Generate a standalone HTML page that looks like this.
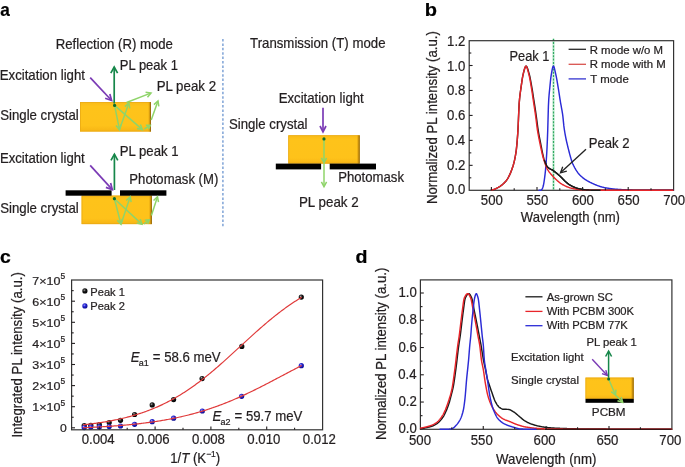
<!DOCTYPE html>
<html><head><meta charset="utf-8"><style>
html,body{margin:0;padding:0;background:#fff;}
svg{display:block;font-family:"Liberation Sans", sans-serif;will-change:transform;}
</style></head><body>
<svg width="685" height="467" viewBox="0 0 685 467">
<defs>
<linearGradient id="cg" x1="0" y1="0" x2="0" y2="1">
<stop offset="0" stop-color="#f9bb18"/><stop offset="0.15" stop-color="#fec31a"/><stop offset="0.8" stop-color="#fec21a"/><stop offset="1" stop-color="#f6b414"/>
</linearGradient>
<linearGradient id="ce" x1="0" y1="0" x2="1" y2="0">
<stop offset="0" stop-color="#e7a10f" stop-opacity="0"/><stop offset="0.5" stop-color="#c98e0c" stop-opacity="0.7"/><stop offset="1" stop-color="#7d560a"/>
</linearGradient>
<radialGradient id="gk" cx="0.4" cy="0.38" r="0.62" fx="0.38" fy="0.34"><stop offset="0" stop-color="#e0e0e0"/><stop offset="0.2" stop-color="#555"/><stop offset="0.5" stop-color="#151515"/><stop offset="1" stop-color="#000"/></radialGradient>
<radialGradient id="gb" cx="0.4" cy="0.38" r="0.62" fx="0.38" fy="0.34"><stop offset="0" stop-color="#d8d8ff"/><stop offset="0.2" stop-color="#5a5aee"/><stop offset="0.5" stop-color="#2020cc"/><stop offset="1" stop-color="#0c0c90"/></radialGradient>
</defs>
<rect width="685" height="467" fill="#fff"/>
<text transform="translate(0.28,15.90) scale(0.9413,1)" font-size="18.24" font-weight="bold" stroke="#000" stroke-width="0.22" fill="#000">a</text>
<text transform="translate(55.74,48.50) scale(0.9607,1)" font-size="13.73" stroke="#231f20" stroke-width="0.22" fill="#231f20">Reflection (R) mode</text>
<text transform="translate(250.07,48.00) scale(0.9641,1)" font-size="13.73" stroke="#231f20" stroke-width="0.22" fill="#231f20">Transmission (T) mode</text>
<line x1="222.90" y1="39.00" x2="222.90" y2="228.00" stroke="#7fa3d6" stroke-width="1.5" stroke-dasharray="2.5,1.9"/>
<rect x="80" y="102.1" width="71" height="29.4" fill="url(#cg)"/>
<rect x="80.40" y="102.50" width="70.20" height="28.60" fill="none" stroke="#eaaa14" stroke-width="0.8"/>
<rect x="148.00" y="102.1" width="3.0" height="29.4" fill="url(#ce)"/>
<text transform="translate(-0.26,80.40) scale(0.9632,1)" font-size="13.73" stroke="#231f20" stroke-width="0.22" fill="#231f20">Excitation light</text>
<text transform="translate(0.20,119.50) scale(0.9638,1)" font-size="13.73" stroke="#231f20" stroke-width="0.22" fill="#231f20">Single crystal</text>
<text transform="translate(119.86,70.30) scale(0.9477,1)" font-size="13.73" stroke="#231f20" stroke-width="0.22" fill="#231f20">PL peak 1</text>
<text transform="translate(156.64,90.90) scale(0.9696,1)" font-size="13.73" stroke="#231f20" stroke-width="0.22" fill="#231f20">PL peak 2</text>
<line x1="90.20" y1="77.60" x2="111.40" y2="100.28" stroke="#7b3bb5" stroke-width="1.7" stroke-linecap="butt"/>
<polyline points="105.17,98.30 111.60,100.50 109.84,93.93" fill="none" stroke="#7b3bb5" stroke-width="1.7" stroke-linejoin="miter" stroke-linecap="butt"/>
<line x1="114.20" y1="103.50" x2="114.20" y2="67.30" stroke="#16874a" stroke-width="1.7" stroke-linecap="butt"/>
<polyline points="117.60,73.20 114.20,67.00 110.80,73.20" fill="none" stroke="#16874a" stroke-width="1.7" stroke-linejoin="miter" stroke-linecap="butt"/>
<line x1="114.60" y1="105.40" x2="119.44" y2="129.31" stroke="#8fd46a" stroke-width="1.5" stroke-linecap="butt"/>
<polyline points="116.00,125.41 119.50,129.60 121.10,124.38" fill="none" stroke="#8fd46a" stroke-width="1.5" stroke-linejoin="miter" stroke-linecap="butt"/>
<line x1="119.50" y1="129.60" x2="128.80" y2="103.28" stroke="#8fd46a" stroke-width="1.5" stroke-linecap="butt"/>
<polyline points="129.75,108.39 128.90,103.00 124.85,106.66" fill="none" stroke="#8fd46a" stroke-width="1.5" stroke-linejoin="miter" stroke-linecap="butt"/>
<line x1="126.50" y1="102.50" x2="150.72" y2="93.11" stroke="#8fd46a" stroke-width="1.5" stroke-linecap="butt"/>
<polyline points="147.46,97.16 151.00,93.00 145.58,92.31" fill="none" stroke="#8fd46a" stroke-width="1.5" stroke-linejoin="miter" stroke-linecap="butt"/>
<line x1="114.60" y1="105.40" x2="142.07" y2="129.40" stroke="#8fd46a" stroke-width="1.5" stroke-linecap="butt"/>
<polyline points="136.97,128.40 142.30,129.60 140.40,124.48" fill="none" stroke="#8fd46a" stroke-width="1.5" stroke-linejoin="miter" stroke-linecap="butt"/>
<line x1="144.50" y1="129.00" x2="150.05" y2="125.36" stroke="#8fd46a" stroke-width="1.5" stroke-linecap="butt"/>
<polyline points="148.38,129.21 150.30,125.20 145.86,125.36" fill="none" stroke="#8fd46a" stroke-width="1.5" stroke-linejoin="miter" stroke-linecap="butt"/>
<line x1="151.20" y1="120.00" x2="157.90" y2="101.28" stroke="#8fd46a" stroke-width="1.5" stroke-linecap="butt"/>
<polyline points="158.83,106.40 158.00,101.00 153.93,104.64" fill="none" stroke="#8fd46a" stroke-width="1.5" stroke-linejoin="miter" stroke-linecap="butt"/>
<circle cx="114.6" cy="105.4" r="1.6" fill="#0c6b2c"/>
<rect x="81.6" y="195.6" width="70.2" height="28.5" fill="url(#cg)"/>
<rect x="82.00" y="196.00" width="69.40" height="27.70" fill="none" stroke="#eaaa14" stroke-width="0.8"/>
<rect x="148.80" y="195.6" width="3.0" height="28.5" fill="url(#ce)"/>
<rect x="65.60" y="190.30" width="46.00" height="5.40" fill="#000"/>
<rect x="120.00" y="190.30" width="46.40" height="5.40" fill="#000"/>
<text transform="translate(-0.05,163.20) scale(0.9587,1)" font-size="13.73" stroke="#231f20" stroke-width="0.22" fill="#231f20">Excitation light</text>
<text transform="translate(0.20,212.80) scale(0.9638,1)" font-size="13.73" stroke="#231f20" stroke-width="0.22" fill="#231f20">Single crystal</text>
<text transform="translate(119.75,155.80) scale(0.9595,1)" font-size="13.73" stroke="#231f20" stroke-width="0.22" fill="#231f20">PL peak 1</text>
<text transform="translate(129.35,183.50) scale(0.9562,1)" font-size="13.73" stroke="#231f20" stroke-width="0.22" fill="#231f20">Photomask (M)</text>
<line x1="90.20" y1="165.40" x2="112.10" y2="189.38" stroke="#7b3bb5" stroke-width="1.7" stroke-linecap="butt"/>
<polyline points="105.89,187.33 112.30,189.60 110.62,183.01" fill="none" stroke="#7b3bb5" stroke-width="1.7" stroke-linejoin="miter" stroke-linecap="butt"/>
<line x1="114.40" y1="190.00" x2="114.40" y2="154.50" stroke="#16874a" stroke-width="1.7" stroke-linecap="butt"/>
<polyline points="117.80,160.40 114.40,154.20 111.00,160.40" fill="none" stroke="#16874a" stroke-width="1.7" stroke-linejoin="miter" stroke-linecap="butt"/>
<line x1="114.40" y1="198.70" x2="120.93" y2="224.01" stroke="#8fd46a" stroke-width="1.5" stroke-linecap="butt"/>
<polyline points="117.28,220.30 121.00,224.30 122.32,219.00" fill="none" stroke="#8fd46a" stroke-width="1.5" stroke-linejoin="miter" stroke-linecap="butt"/>
<line x1="121.00" y1="224.30" x2="130.10" y2="197.08" stroke="#8fd46a" stroke-width="1.5" stroke-linecap="butt"/>
<polyline points="131.14,202.18 130.20,196.80 126.21,200.53" fill="none" stroke="#8fd46a" stroke-width="1.5" stroke-linejoin="miter" stroke-linecap="butt"/>
<line x1="114.40" y1="198.70" x2="141.78" y2="224.10" stroke="#8fd46a" stroke-width="1.5" stroke-linecap="butt"/>
<polyline points="136.71,222.94 142.00,224.30 140.25,219.13" fill="none" stroke="#8fd46a" stroke-width="1.5" stroke-linejoin="miter" stroke-linecap="butt"/>
<line x1="144.00" y1="223.80" x2="148.96" y2="219.98" stroke="#8fd46a" stroke-width="1.5" stroke-linecap="butt"/>
<polyline points="147.59,223.94 149.20,219.80 144.79,220.29" fill="none" stroke="#8fd46a" stroke-width="1.5" stroke-linejoin="miter" stroke-linecap="butt"/>
<line x1="151.40" y1="215.40" x2="157.41" y2="197.09" stroke="#8fd46a" stroke-width="1.5" stroke-linecap="butt"/>
<polyline points="158.47,202.17 157.50,196.80 153.53,200.55" fill="none" stroke="#8fd46a" stroke-width="1.5" stroke-linejoin="miter" stroke-linecap="butt"/>
<circle cx="114.4" cy="198.7" r="1.6" fill="#0c6b2c"/>
<rect x="288.3" y="135.3" width="71.3" height="28.3" fill="url(#cg)"/>
<rect x="288.70" y="135.70" width="70.50" height="27.50" fill="none" stroke="#eaaa14" stroke-width="0.8"/>
<rect x="356.60" y="135.3" width="3.0" height="28.3" fill="url(#ce)"/>
<rect x="275.80" y="163.60" width="45.30" height="5.80" fill="#000"/>
<rect x="329.70" y="163.60" width="46.30" height="5.80" fill="#000"/>
<text transform="translate(278.64,102.50) scale(0.9621,1)" font-size="13.73" stroke="#231f20" stroke-width="0.22" fill="#231f20">Excitation light</text>
<text transform="translate(228.98,128.90) scale(0.9615,1)" font-size="13.73" stroke="#231f20" stroke-width="0.22" fill="#231f20">Single crystal</text>
<text transform="translate(338.15,181.90) scale(0.9599,1)" font-size="13.73" stroke="#231f20" stroke-width="0.22" fill="#231f20">Photomask</text>
<text transform="translate(298.93,207.40) scale(0.9746,1)" font-size="13.73" stroke="#231f20" stroke-width="0.22" fill="#231f20">PL peak 2</text>
<line x1="323.00" y1="107.70" x2="323.00" y2="131.50" stroke="#7b3bb5" stroke-width="1.7" stroke-linecap="butt"/>
<polyline points="320.00,126.00 323.00,131.80 326.00,126.00" fill="none" stroke="#7b3bb5" stroke-width="1.7" stroke-linejoin="miter" stroke-linecap="butt"/>
<line x1="324.00" y1="139.00" x2="324.00" y2="162.30" stroke="#8fd46a" stroke-width="1.5" stroke-linecap="butt"/>
<polyline points="321.40,157.80 324.00,162.60 326.60,157.80" fill="none" stroke="#8fd46a" stroke-width="1.5" stroke-linejoin="miter" stroke-linecap="butt"/>
<line x1="324.00" y1="163.60" x2="324.00" y2="186.40" stroke="#8fd46a" stroke-width="1.5" stroke-linecap="butt"/>
<polyline points="321.40,181.90 324.00,186.70 326.60,181.90" fill="none" stroke="#8fd46a" stroke-width="1.5" stroke-linejoin="miter" stroke-linecap="butt"/>
<circle cx="324" cy="138.9" r="1.6" fill="#0c6b2c"/>
<text transform="translate(424.70,15.80) scale(1.0965,1)" font-size="18.24" font-weight="bold" stroke="#000" stroke-width="0.22" fill="#000">b</text>
<line x1="553.50" y1="38.80" x2="553.50" y2="190.30" stroke="#cdeed8" stroke-width="2.4"/>
<line x1="553.50" y1="38.80" x2="553.50" y2="190.30" stroke="#2fa862" stroke-width="1.2" stroke-dasharray="2,1.3"/>
<rect x="469.20" y="40.70" width="204.40" height="149.60" fill="none" stroke="#333" stroke-width="1.2"/>
<polyline points="539.00,190.30 539.34,190.30 539.67,190.30 540.01,190.30 540.34,190.27 540.68,190.18 541.02,190.05 541.35,189.88 541.69,189.66 542.02,189.22 542.36,188.59 542.69,187.82 543.03,186.87 543.37,185.54 543.70,183.86 544.04,181.85 544.37,179.58 544.71,177.07 545.05,174.37 545.38,171.44 545.72,167.85 546.05,163.60 546.39,158.76 546.72,153.39 547.06,147.13 547.40,139.38 547.73,130.24 548.07,118.02 548.40,106.35 548.74,99.42 549.08,94.98 549.41,91.48 549.75,88.24 550.08,84.85 550.42,81.51 550.75,78.43 551.09,75.80 551.43,73.77 551.76,71.87 552.10,70.06 552.43,68.46 552.77,67.19 553.11,66.37 553.44,66.13 553.78,66.46 554.11,67.26 554.45,68.42 554.78,69.82 555.12,71.36 555.46,72.94 555.79,74.45 556.13,75.97 556.46,77.66 556.80,79.48 557.14,81.39 557.47,83.37 557.81,85.37 558.14,87.38 558.48,89.40 558.81,91.51 559.15,93.68 559.49,95.87 559.82,98.06 560.16,100.20 560.49,102.25 560.83,104.17 561.17,105.98 561.50,107.77 561.84,109.59 562.17,111.52 562.51,113.63 562.84,116.01 563.18,119.06 563.52,122.56 563.85,125.90 564.19,128.50 564.52,130.70 564.86,132.75 565.20,134.67 565.53,136.47 565.87,138.16 566.20,139.77 566.54,141.30 566.87,142.77 567.21,144.19 567.55,145.58 567.88,146.96 568.22,148.32 568.55,149.67 568.89,151.00 569.23,152.30 569.56,153.59 569.90,154.84 570.23,156.05 570.57,157.23 570.90,158.37 571.24,159.46 571.58,160.51 571.91,161.49 572.25,162.42 572.58,163.29 572.92,164.10 573.26,164.83 573.59,165.53 573.93,166.21 574.26,166.86 574.60,167.50 574.93,168.12 575.27,168.72 575.61,169.30 575.94,169.86 576.28,170.40 576.61,170.92 576.95,171.42 577.29,171.91 577.62,172.38 577.96,172.83 578.29,173.26 578.63,173.68 578.96,174.08 579.30,174.46 579.64,174.83 579.97,175.18 580.31,175.51 580.64,175.83 580.98,176.14 581.32,176.45 581.65,176.74 581.99,177.03 582.32,177.31 582.66,177.59 582.99,177.86 583.33,178.12 583.67,178.38 584.00,178.63 584.34,178.87 584.67,179.11 585.01,179.34 585.35,179.57 585.68,179.79 586.02,180.01 586.35,180.22 586.69,180.43 587.03,180.63 587.36,180.83 587.70,181.02 588.03,181.21 588.37,181.40 588.70,181.58 589.04,181.76 589.38,181.94 589.71,182.11 590.05,182.28 590.38,182.45 590.72,182.61 591.06,182.77 591.39,182.93 591.73,183.09 592.06,183.25 592.40,183.40 592.73,183.56 593.07,183.71 593.41,183.86 593.74,184.01 594.08,184.16 594.41,184.31 594.75,184.46 595.09,184.60 595.42,184.74 595.76,184.88 596.09,185.02 596.43,185.16 596.76,185.29 597.10,185.43 597.44,185.56 597.77,185.68 598.11,185.81 598.44,185.93 598.78,186.05 599.12,186.17 599.45,186.28 599.79,186.39 600.12,186.50 600.46,186.61 600.79,186.71 601.13,186.81 601.47,186.91 601.80,187.00 602.14,187.09 602.47,187.17 602.81,187.25 603.15,187.33 603.48,187.41 603.82,187.48 604.15,187.55 604.49,187.61 604.82,187.67 605.16,187.73 605.50,187.80 605.83,187.86 606.17,187.91 606.50,187.97 606.84,188.03 607.18,188.09 607.51,188.14 607.85,188.20 608.18,188.25 608.52,188.30 608.85,188.35 609.19,188.40 609.53,188.45 609.86,188.50 610.20,188.55 610.53,188.60 610.87,188.64 611.21,188.69 611.54,188.73 611.88,188.77 612.21,188.81 612.55,188.85 612.88,188.89 613.22,188.93 613.56,188.97 613.89,189.01 614.23,189.04 614.56,189.08 614.90,189.11 615.24,189.14 615.57,189.17 615.91,189.20 616.24,189.23 616.58,189.26 616.91,189.29 617.25,189.32 617.59,189.34 617.92,189.37 618.26,189.39 618.59,189.41 618.93,189.43 619.27,189.46 619.60,189.48 619.94,189.50 620.27,189.52 620.61,189.54 620.94,189.56 621.28,189.58 621.62,189.60 621.95,189.62 622.29,189.64 622.62,189.66 622.96,189.68 623.30,189.70 623.63,189.72 623.97,189.73 624.30,189.75 624.64,189.77 624.97,189.79 625.31,189.81 625.65,189.82 625.98,189.84 626.32,189.86 626.65,189.87 626.99,189.89 627.33,189.90 627.66,189.92 628.00,189.93 628.33,189.95 628.67,189.96 629.01,189.98 629.34,189.99 629.68,190.00 630.01,190.02 630.35,190.03 630.68,190.04 631.02,190.05 631.36,190.06 631.69,190.07 632.03,190.08 632.36,190.09 632.70,190.10 633.04,190.11 633.37,190.12 633.71,190.13 634.04,190.13 634.38,190.14 634.71,190.15 635.05,190.15 635.39,190.16 635.72,190.16 636.06,190.17 636.39,190.17 636.73,190.17 637.07,190.18 637.40,190.18 637.74,190.18 638.07,190.18 638.41,190.18 638.74,190.19 639.08,190.19 639.42,190.19 639.75,190.19 640.09,190.20 640.42,190.20 640.76,190.20 641.10,190.20 641.43,190.20 641.77,190.21 642.10,190.21 642.44,190.21 642.77,190.21 643.11,190.21 643.45,190.22 643.78,190.22 644.12,190.22 644.45,190.22 644.79,190.22 645.13,190.23 645.46,190.23 645.80,190.23 646.13,190.23 646.47,190.23 646.80,190.23 647.14,190.24 647.48,190.24 647.81,190.24 648.15,190.24 648.48,190.24 648.82,190.24 649.16,190.25 649.49,190.25 649.83,190.25 650.16,190.25 650.50,190.25 650.83,190.25 651.17,190.25 651.51,190.26 651.84,190.26 652.18,190.26 652.51,190.26 652.85,190.26 653.19,190.26 653.52,190.26 653.86,190.27 654.19,190.27 654.53,190.27 654.86,190.27 655.20,190.27 655.54,190.27 655.87,190.27 656.21,190.27 656.54,190.27 656.88,190.28 657.22,190.28 657.55,190.28 657.89,190.28 658.22,190.28 658.56,190.28 658.89,190.28 659.23,190.28 659.57,190.28 659.90,190.28 660.24,190.28 660.57,190.29 660.91,190.29 661.25,190.29 661.58,190.29 661.92,190.29 662.25,190.29 662.59,190.29 662.92,190.29 663.26,190.29 663.60,190.29 663.93,190.29 664.27,190.29 664.60,190.29 664.94,190.29 665.28,190.29 665.61,190.29 665.95,190.30 666.28,190.30 666.62,190.30 666.95,190.30 667.29,190.30 667.63,190.30 667.96,190.30 668.30,190.30 668.63,190.30 668.97,190.30 669.31,190.30 669.64,190.30 669.98,190.30 670.31,190.30 670.65,190.30 670.98,190.30 671.32,190.30 671.66,190.30 671.99,190.30 672.33,190.30 672.66,190.30 673.00,190.30" fill="none" stroke="#2b2bd6" stroke-width="1.45" stroke-linejoin="round" stroke-linecap="round"/>
<polyline points="491.40,189.89 491.86,189.84 492.31,189.79 492.77,189.71 493.22,189.61 493.68,189.48 494.13,189.32 494.59,189.15 495.04,188.97 495.50,188.76 495.95,188.55 496.41,188.32 496.86,188.09 497.32,187.86 497.77,187.62 498.23,187.38 498.68,187.13 499.14,186.87 499.59,186.59 500.05,186.30 500.50,185.99 500.96,185.68 501.41,185.34 501.87,184.99 502.32,184.62 502.78,184.23 503.23,183.83 503.69,183.41 504.14,182.97 504.60,182.50 505.05,182.02 505.51,181.52 505.96,180.99 506.42,180.42 506.87,179.80 507.33,179.12 507.78,178.39 508.24,177.60 508.70,176.76 509.15,175.87 509.61,174.92 510.06,173.92 510.52,172.87 510.97,171.76 511.43,170.59 511.88,169.38 512.34,168.11 512.79,166.75 513.25,165.27 513.70,163.64 514.16,161.82 514.61,159.80 515.07,157.56 515.52,155.05 515.98,152.26 516.43,148.82 516.89,144.38 517.34,139.04 517.80,132.92 518.25,124.06 518.71,112.99 519.16,103.60 519.62,98.25 520.07,94.28 520.53,90.98 520.98,87.83 521.44,84.54 521.89,81.31 522.35,78.34 522.80,75.80 523.26,73.85 523.71,72.04 524.17,70.30 524.63,68.74 525.08,67.46 525.54,66.56 525.99,66.14 526.45,66.28 526.90,66.91 527.36,67.93 527.81,69.25 528.27,70.78 528.72,72.41 529.18,74.05 529.63,75.75 530.09,77.78 530.54,80.08 531.00,82.57 531.45,85.16 531.91,87.76 532.36,90.44 532.82,93.30 533.27,96.25 533.73,99.25 534.18,102.23 534.64,105.19 535.09,108.18 535.55,111.21 536.00,114.30 536.46,117.54 536.91,121.01 537.37,124.53 537.82,127.89 538.28,130.88 538.73,133.54 539.19,136.01 539.64,138.35 540.10,140.63 540.55,142.92 541.01,145.28 541.47,147.66 541.92,150.03 542.38,152.32 542.83,154.48 543.29,156.47 543.74,158.23 544.20,159.71 544.65,161.01 545.11,162.22 545.56,163.35 546.02,164.37 546.47,165.28 546.93,166.06 547.38,166.70 547.84,167.20 548.29,167.63 548.75,168.00 549.20,168.32 549.66,168.62 550.11,168.90 550.57,169.15 551.02,169.37 551.48,169.57 551.93,169.77 552.39,169.99 552.84,170.24 553.30,170.54 553.75,170.89 554.21,171.28 554.66,171.68 555.12,172.05 555.57,172.41 556.03,172.76 556.48,173.11 556.94,173.46 557.39,173.83 557.85,174.20 558.31,174.59 558.76,174.99 559.22,175.39 559.67,175.81 560.13,176.24 560.58,176.66 561.04,177.10 561.49,177.53 561.95,177.98 562.40,178.45 562.86,178.92 563.31,179.40 563.77,179.87 564.22,180.34 564.68,180.79 565.13,181.23 565.59,181.64 566.04,182.05 566.50,182.45 566.95,182.84 567.41,183.23 567.86,183.60 568.32,183.95 568.77,184.28 569.23,184.58 569.68,184.86 570.14,185.12 570.59,185.37 571.05,185.62 571.50,185.86 571.96,186.10 572.41,186.33 572.87,186.55 573.32,186.77 573.78,186.98 574.24,187.18 574.69,187.38 575.15,187.56 575.60,187.74 576.06,187.91 576.51,188.07 576.97,188.21 577.42,188.35 577.88,188.48 578.33,188.59 578.79,188.70 579.24,188.80 579.70,188.89 580.15,188.99 580.61,189.08 581.06,189.17 581.52,189.26 581.97,189.34 582.43,189.42 582.88,189.50 583.34,189.57 583.79,189.64 584.25,189.71 584.70,189.77 585.16,189.82 585.61,189.88 586.07,189.92 586.52,189.96 586.98,190.00 587.43,190.02 587.89,190.05 588.34,190.06 588.80,190.08 589.25,190.10 589.71,190.11 590.16,190.13 590.62,190.14 591.08,190.16 591.53,190.17 591.99,190.18 592.44,190.19 592.90,190.21 593.35,190.22 593.81,190.23 594.26,190.24 594.72,190.25 595.17,190.26 595.63,190.26 596.08,190.27 596.54,190.28 596.99,190.28 597.45,190.29 597.90,190.29 598.36,190.29 598.81,190.30 599.27,190.30 599.72,190.30 600.18,190.30 600.63,190.30 601.09,190.30 601.54,190.30 602.00,190.30 602.45,190.30 602.91,190.30 603.36,190.30 603.82,190.30 604.27,190.30 604.73,190.30 605.18,190.30 605.64,190.30 606.09,190.30 606.55,190.30 607.01,190.30 607.46,190.30 607.92,190.30 608.37,190.30 608.83,190.30 609.28,190.30 609.74,190.30 610.19,190.30 610.65,190.30 611.10,190.30 611.56,190.30 612.01,190.30 612.47,190.30 612.92,190.30 613.38,190.30 613.83,190.30 614.29,190.30 614.74,190.30 615.20,190.30 615.65,190.30 616.11,190.30 616.56,190.30 617.02,190.30 617.47,190.30 617.93,190.30 618.38,190.30 618.84,190.30 619.29,190.30 619.75,190.30 620.20,190.30 620.66,190.30 621.11,190.30 621.57,190.30 622.02,190.30 622.48,190.30 622.93,190.30 623.39,190.30 623.85,190.30 624.30,190.30 624.76,190.30 625.21,190.30 625.67,190.30 626.12,190.30 626.58,190.30 627.03,190.30 627.49,190.30 627.94,190.30 628.40,190.30 628.85,190.30 629.31,190.30 629.76,190.30 630.22,190.30 630.67,190.30 631.13,190.30 631.58,190.30 632.04,190.30 632.49,190.30 632.95,190.30 633.40,190.30 633.86,190.30 634.31,190.30 634.77,190.30 635.22,190.30 635.68,190.30 636.13,190.30 636.59,190.30 637.04,190.30 637.50,190.30 637.95,190.30 638.41,190.30 638.86,190.30 639.32,190.30 639.77,190.30 640.23,190.30 640.69,190.30 641.14,190.30 641.60,190.30 642.05,190.30 642.51,190.30 642.96,190.30 643.42,190.30 643.87,190.30 644.33,190.30 644.78,190.30 645.24,190.30 645.69,190.30 646.15,190.30 646.60,190.30 647.06,190.30 647.51,190.30 647.97,190.30 648.42,190.30 648.88,190.30 649.33,190.30 649.79,190.30 650.24,190.30 650.70,190.30 651.15,190.30 651.61,190.30 652.06,190.30 652.52,190.30 652.97,190.30 653.43,190.30 653.88,190.30 654.34,190.30 654.79,190.30 655.25,190.30 655.70,190.30 656.16,190.30 656.62,190.30 657.07,190.30 657.53,190.30 657.98,190.30 658.44,190.30 658.89,190.30 659.35,190.30 659.80,190.30 660.26,190.30 660.71,190.30 661.17,190.30 661.62,190.30 662.08,190.30 662.53,190.30 662.99,190.30 663.44,190.30 663.90,190.30 664.35,190.30 664.81,190.30 665.26,190.30 665.72,190.30 666.17,190.30 666.63,190.30 667.08,190.30 667.54,190.30 667.99,190.30 668.45,190.30 668.90,190.30 669.36,190.30 669.81,190.30 670.27,190.30 670.72,190.30 671.18,190.30 671.63,190.30 672.09,190.30 672.54,190.30 673.00,190.30" fill="none" stroke="#1a1a1a" stroke-width="1.45" stroke-linejoin="round" stroke-linecap="round"/>
<polyline points="491.40,189.89 491.86,189.84 492.31,189.79 492.77,189.71 493.22,189.61 493.68,189.48 494.13,189.32 494.59,189.15 495.04,188.97 495.50,188.76 495.95,188.55 496.41,188.32 496.86,188.09 497.32,187.86 497.77,187.62 498.23,187.38 498.68,187.13 499.14,186.87 499.59,186.59 500.05,186.30 500.50,185.99 500.96,185.68 501.41,185.34 501.87,184.99 502.32,184.62 502.78,184.23 503.23,183.83 503.69,183.41 504.14,182.97 504.60,182.50 505.05,182.02 505.51,181.52 505.96,180.99 506.42,180.42 506.87,179.80 507.33,179.12 507.78,178.39 508.24,177.60 508.70,176.76 509.15,175.87 509.61,174.92 510.06,173.92 510.52,172.87 510.97,171.76 511.43,170.59 511.88,169.38 512.34,168.11 512.79,166.75 513.25,165.27 513.70,163.64 514.16,161.82 514.61,159.80 515.07,157.56 515.52,155.05 515.98,152.26 516.43,148.82 516.89,144.38 517.34,139.04 517.80,132.92 518.25,124.06 518.71,112.99 519.16,103.60 519.62,98.25 520.07,94.28 520.53,90.98 520.98,87.83 521.44,84.55 521.89,81.35 522.35,78.39 522.80,75.84 523.26,73.82 523.71,71.91 524.17,70.07 524.63,68.44 525.08,67.15 525.54,66.34 525.99,66.14 526.45,66.55 526.90,67.47 527.36,68.78 527.81,70.35 528.27,72.07 528.72,73.82 529.18,75.58 529.63,77.67 530.09,80.05 530.54,82.63 531.00,85.32 531.45,88.02 531.91,90.87 532.36,93.91 532.82,97.04 533.27,100.16 533.73,103.20 534.18,106.16 534.64,109.12 535.09,112.15 535.55,115.30 536.00,118.75 536.46,122.47 536.91,126.17 537.37,129.53 537.82,132.38 538.28,134.96 538.73,137.35 539.19,139.63 539.64,141.84 540.10,144.06 540.55,146.26 541.01,148.44 541.47,150.55 541.92,152.59 542.38,154.54 542.83,156.36 543.29,158.04 543.74,159.56 544.20,161.00 544.65,162.38 545.11,163.71 545.56,164.96 546.02,166.14 546.47,167.23 546.93,168.23 547.38,169.14 547.84,169.94 548.29,170.67 548.75,171.35 549.20,171.97 549.66,172.56 550.11,173.12 550.57,173.65 551.02,174.16 551.48,174.66 551.93,175.15 552.39,175.64 552.84,176.15 553.30,176.66 553.75,177.16 554.21,177.65 554.66,178.12 555.12,178.56 555.57,178.99 556.03,179.42 556.48,179.85 556.94,180.27 557.39,180.69 557.85,181.10 558.31,181.50 558.76,181.89 559.22,182.27 559.67,182.64 560.13,182.99 560.58,183.33 561.04,183.65 561.49,183.95 561.95,184.23 562.40,184.49 562.86,184.74 563.31,184.98 563.77,185.22 564.22,185.46 564.68,185.68 565.13,185.91 565.59,186.12 566.04,186.33 566.50,186.53 566.95,186.72 567.41,186.91 567.86,187.09 568.32,187.26 568.77,187.42 569.23,187.58 569.68,187.72 570.14,187.85 570.59,187.98 571.05,188.10 571.50,188.20 571.96,188.30 572.41,188.40 572.87,188.50 573.32,188.60 573.78,188.69 574.24,188.78 574.69,188.87 575.15,188.95 575.60,189.04 576.06,189.12 576.51,189.19 576.97,189.26 577.42,189.33 577.88,189.40 578.33,189.46 578.79,189.52 579.24,189.57 579.70,189.62 580.15,189.67 580.61,189.71 581.06,189.74 581.52,189.77 581.97,189.80 582.43,189.82 582.88,189.84 583.34,189.87 583.79,189.89 584.25,189.91 584.70,189.93 585.16,189.95 585.61,189.97 586.07,189.99 586.52,190.01 586.98,190.02 587.43,190.04 587.89,190.06 588.34,190.08 588.80,190.09 589.25,190.11 589.71,190.12 590.16,190.14 590.62,190.15 591.08,190.16 591.53,190.18 591.99,190.19 592.44,190.20 592.90,190.21 593.35,190.22 593.81,190.23 594.26,190.24 594.72,190.25 595.17,190.26 595.63,190.27 596.08,190.27 596.54,190.28 596.99,190.28 597.45,190.29 597.90,190.29 598.36,190.30 598.81,190.30 599.27,190.30 599.72,190.30 600.18,190.30 600.63,190.30 601.09,190.30 601.54,190.30 602.00,190.30 602.45,190.30 602.91,190.30 603.36,190.30 603.82,190.30 604.27,190.30 604.73,190.30 605.18,190.30 605.64,190.30 606.09,190.30 606.55,190.30 607.01,190.30 607.46,190.30 607.92,190.30 608.37,190.30 608.83,190.30 609.28,190.30 609.74,190.30 610.19,190.30 610.65,190.30 611.10,190.30 611.56,190.30 612.01,190.30 612.47,190.30 612.92,190.30 613.38,190.30 613.83,190.30 614.29,190.30 614.74,190.30 615.20,190.30 615.65,190.30 616.11,190.30 616.56,190.30 617.02,190.30 617.47,190.30 617.93,190.30 618.38,190.30 618.84,190.30 619.29,190.30 619.75,190.30 620.20,190.30 620.66,190.30 621.11,190.30 621.57,190.30 622.02,190.30 622.48,190.30 622.93,190.30 623.39,190.30 623.85,190.30 624.30,190.30 624.76,190.30 625.21,190.30 625.67,190.30 626.12,190.30 626.58,190.30 627.03,190.30 627.49,190.30 627.94,190.30 628.40,190.30 628.85,190.30 629.31,190.30 629.76,190.30 630.22,190.30 630.67,190.30 631.13,190.30 631.58,190.30 632.04,190.30 632.49,190.30 632.95,190.30 633.40,190.30 633.86,190.30 634.31,190.30 634.77,190.30 635.22,190.30 635.68,190.30 636.13,190.30 636.59,190.30 637.04,190.30 637.50,190.30 637.95,190.30 638.41,190.30 638.86,190.30 639.32,190.30 639.77,190.30 640.23,190.30 640.69,190.30 641.14,190.30 641.60,190.30 642.05,190.30 642.51,190.30 642.96,190.30 643.42,190.30 643.87,190.30 644.33,190.30 644.78,190.30 645.24,190.30 645.69,190.30 646.15,190.30 646.60,190.30 647.06,190.30 647.51,190.30 647.97,190.30 648.42,190.30 648.88,190.30 649.33,190.30 649.79,190.30 650.24,190.30 650.70,190.30 651.15,190.30 651.61,190.30 652.06,190.30 652.52,190.30 652.97,190.30 653.43,190.30 653.88,190.30 654.34,190.30 654.79,190.30 655.25,190.30 655.70,190.30 656.16,190.30 656.62,190.30 657.07,190.30 657.53,190.30 657.98,190.30 658.44,190.30 658.89,190.30 659.35,190.30 659.80,190.30 660.26,190.30 660.71,190.30 661.17,190.30 661.62,190.30 662.08,190.30 662.53,190.30 662.99,190.30 663.44,190.30 663.90,190.30 664.35,190.30 664.81,190.30 665.26,190.30 665.72,190.30 666.17,190.30 666.63,190.30 667.08,190.30 667.54,190.30 667.99,190.30 668.45,190.30 668.90,190.30 669.36,190.30 669.81,190.30 670.27,190.30 670.72,190.30 671.18,190.30 671.63,190.30 672.09,190.30 672.54,190.30 673.00,190.30" fill="none" stroke="#e8252a" stroke-width="1.45" stroke-linejoin="round" stroke-linecap="round"/>
<polyline points="544.50,160.58 544.64,160.97 544.78,161.35 544.92,161.73 545.06,162.09 545.20,162.45 545.33,162.80 545.47,163.14 545.61,163.47 545.75,163.79 545.89,164.10 546.03,164.40 546.17,164.69 546.31,164.97 546.45,165.24 546.59,165.49 546.73,165.73 546.86,165.96 547.00,166.18 547.14,166.38 547.28,166.57 547.42,166.75 547.56,166.91 547.70,167.06 547.84,167.20 547.98,167.34 548.12,167.47 548.26,167.60 548.39,167.72 548.53,167.83 548.67,167.94 548.81,168.05 548.95,168.15 549.09,168.25 549.23,168.34 549.37,168.43 549.51,168.52 549.65,168.61 549.79,168.70 549.92,168.79 550.06,168.87 550.20,168.96 550.34,169.03 550.48,169.11 550.62,169.18 550.76,169.25 550.90,169.31 551.04,169.38 551.18,169.44 551.32,169.50 551.45,169.56 551.59,169.62 551.73,169.68 551.87,169.74 552.01,169.81 552.15,169.87 552.29,169.94 552.43,170.01 552.57,170.08 552.71,170.16 552.85,170.24 552.98,170.32 553.12,170.41 553.26,170.51 553.40,170.61 553.54,170.72 553.68,170.83 553.82,170.95 553.96,171.06 554.10,171.18 554.24,171.31 554.38,171.43 554.52,171.55 554.65,171.67 554.79,171.78 554.93,171.90 555.07,172.01 555.21,172.12 555.35,172.23 555.49,172.34 555.63,172.45 555.77,172.56 555.91,172.66 556.05,172.77 556.18,172.88 556.32,172.99 556.46,173.09 556.60,173.20 556.74,173.31 556.88,173.42 557.02,173.53 557.16,173.64 557.30,173.75 557.44,173.86 557.58,173.97 557.71,174.09 557.85,174.20 557.99,174.32 558.13,174.44 558.27,174.56 558.41,174.68 558.55,174.80 558.69,174.92 558.83,175.05 558.97,175.17 559.11,175.30 559.24,175.42 559.38,175.55 559.52,175.68 559.66,175.80 559.80,175.93 559.94,176.06 560.08,176.19 560.22,176.32 560.36,176.45 560.50,176.58 560.64,176.72 560.77,176.85 560.91,176.98 561.05,177.11 561.19,177.25 561.33,177.38 561.47,177.51 561.61,177.65 561.75,177.78 561.89,177.92 562.03,178.06 562.17,178.20 562.30,178.35 562.44,178.49 562.58,178.63 562.72,178.78 562.86,178.92 563.00,179.07 563.14,179.22 563.28,179.36 563.42,179.51 563.56,179.65 563.70,179.80 563.83,179.94 563.97,180.09 564.11,180.23 564.25,180.37 564.39,180.51 564.53,180.65 564.67,180.79 564.81,180.92 564.95,181.06 565.09,181.19 565.23,181.32 565.36,181.44 565.50,181.57 565.64,181.69 565.78,181.81 565.92,181.94 566.06,182.06 566.20,182.18 566.34,182.31 566.48,182.43 566.62,182.55 566.76,182.67 566.89,182.79 567.03,182.91 567.17,183.03 567.31,183.15 567.45,183.26 567.59,183.38 567.73,183.49 567.87,183.60 568.01,183.71 568.15,183.82 568.29,183.93 568.42,184.03 568.56,184.13 568.70,184.23 568.84,184.33 568.98,184.42 569.12,184.51 569.26,184.60 569.40,184.69 569.54,184.77 569.68,184.85 569.82,184.93 569.95,185.01 570.09,185.09 570.23,185.17 570.37,185.25 570.51,185.32 570.65,185.40 570.79,185.48 570.93,185.55 571.07,185.63 571.21,185.70 571.35,185.78 571.48,185.85 571.62,185.92 571.76,186.00 571.90,186.07 572.04,186.14 572.18,186.21 572.32,186.28 572.46,186.35 572.60,186.42 572.74,186.49 572.88,186.56 573.02,186.63 573.15,186.69 573.29,186.76 573.43,186.82 573.57,186.89 573.71,186.95 573.85,187.01 573.99,187.08 574.13,187.14 574.27,187.20 574.41,187.26 574.55,187.32 574.68,187.38 574.82,187.43 574.96,187.49 575.10,187.55 575.24,187.60 575.38,187.66 575.52,187.71 575.66,187.76 575.80,187.81 575.94,187.87 576.08,187.92 576.21,187.96 576.35,188.01 576.49,188.06 576.63,188.11 576.77,188.15 576.91,188.20 577.05,188.24 577.19,188.28 577.33,188.32 577.47,188.36 577.61,188.40 577.74,188.44 577.88,188.48 578.02,188.52 578.16,188.55 578.30,188.59 578.44,188.62 578.58,188.65 578.72,188.68 578.86,188.71 579.00,188.74 579.14,188.77 579.27,188.80 579.41,188.83 579.55,188.86 579.69,188.89 579.83,188.92 579.97,188.95 580.11,188.98 580.25,189.01 580.39,189.04 580.53,189.06 580.67,189.09 580.80,189.12 580.94,189.15 581.08,189.17 581.22,189.20 581.36,189.23 581.50,189.25 581.64,189.28 581.78,189.31 581.92,189.33 582.06,189.36 582.20,189.38 582.33,189.41 582.47,189.43 582.61,189.45 582.75,189.48 582.89,189.50 583.03,189.52 583.17,189.55 583.31,189.57 583.45,189.59 583.59,189.61 583.73,189.63 583.86,189.65 584.00,189.67 584.14,189.69 584.28,189.71 584.42,189.73 584.56,189.75 584.70,189.77 584.84,189.79 584.98,189.80 585.12,189.82 585.26,189.84 585.39,189.85 585.53,189.87 585.67,189.88 585.81,189.90 585.95,189.91 586.09,189.92 586.23,189.94 586.37,189.95 586.51,189.96 586.65,189.97 586.79,189.98 586.92,189.99 587.06,190.00 587.20,190.01 587.34,190.02 587.48,190.03 587.62,190.03 587.76,190.04 587.90,190.05 588.04,190.05 588.18,190.06 588.32,190.06 588.45,190.07 588.59,190.07 588.73,190.08 588.87,190.08 589.01,190.09 589.15,190.09 589.29,190.10 589.43,190.10 589.57,190.11 589.71,190.11 589.85,190.12 589.98,190.12 590.12,190.13 590.26,190.13 590.40,190.13 590.54,190.14 590.68,190.14 590.82,190.15 590.96,190.15 591.10,190.16 591.24,190.16 591.38,190.16 591.52,190.17 591.65,190.17 591.79,190.18 591.93,190.18 592.07,190.18 592.21,190.19 592.35,190.19 592.49,190.20 592.63,190.20 592.77,190.20 592.91,190.21 593.05,190.21 593.18,190.21 593.32,190.22 593.46,190.22 593.60,190.22 593.74,190.23 593.88,190.23 594.02,190.23 594.16,190.24 594.30,190.24 594.44,190.24 594.58,190.24 594.71,190.25 594.85,190.25 594.99,190.25 595.13,190.25 595.27,190.26 595.41,190.26 595.55,190.26 595.69,190.26 595.83,190.27 595.97,190.27 596.11,190.27 596.24,190.27 596.38,190.27 596.52,190.28 596.66,190.28 596.80,190.28 596.94,190.28 597.08,190.28 597.22,190.28 597.36,190.29 597.50,190.29 597.64,190.29 597.77,190.29 597.91,190.29 598.05,190.29 598.19,190.29 598.33,190.29 598.47,190.30 598.61,190.30 598.75,190.30 598.89,190.30 599.03,190.30 599.17,190.30 599.30,190.30 599.44,190.30 599.58,190.30 599.72,190.30 599.86,190.30 600.00,190.30" fill="none" stroke="#1a1a1a" stroke-width="1.45" stroke-linejoin="round" stroke-linecap="round"/>
<line x1="491.40" y1="190.30" x2="491.40" y2="186.90" stroke="#231f20" stroke-width="1.1"/>
<line x1="537.00" y1="190.30" x2="537.00" y2="186.90" stroke="#231f20" stroke-width="1.1"/>
<line x1="582.60" y1="190.30" x2="582.60" y2="186.90" stroke="#231f20" stroke-width="1.1"/>
<line x1="628.20" y1="190.30" x2="628.20" y2="186.90" stroke="#231f20" stroke-width="1.1"/>
<line x1="514.20" y1="190.30" x2="514.20" y2="188.20" stroke="#231f20" stroke-width="1.1"/>
<line x1="559.80" y1="190.30" x2="559.80" y2="188.20" stroke="#231f20" stroke-width="1.1"/>
<line x1="605.40" y1="190.30" x2="605.40" y2="188.20" stroke="#231f20" stroke-width="1.1"/>
<line x1="651.00" y1="190.30" x2="651.00" y2="188.20" stroke="#231f20" stroke-width="1.1"/>
<line x1="469.20" y1="165.34" x2="472.60" y2="165.34" stroke="#231f20" stroke-width="1.1"/>
<line x1="469.20" y1="140.38" x2="472.60" y2="140.38" stroke="#231f20" stroke-width="1.1"/>
<line x1="469.20" y1="115.42" x2="472.60" y2="115.42" stroke="#231f20" stroke-width="1.1"/>
<line x1="469.20" y1="90.46" x2="472.60" y2="90.46" stroke="#231f20" stroke-width="1.1"/>
<line x1="469.20" y1="65.50" x2="472.60" y2="65.50" stroke="#231f20" stroke-width="1.1"/>
<line x1="469.20" y1="177.82" x2="471.30" y2="177.82" stroke="#231f20" stroke-width="1.1"/>
<line x1="469.20" y1="152.86" x2="471.30" y2="152.86" stroke="#231f20" stroke-width="1.1"/>
<line x1="469.20" y1="127.90" x2="471.30" y2="127.90" stroke="#231f20" stroke-width="1.1"/>
<line x1="469.20" y1="102.94" x2="471.30" y2="102.94" stroke="#231f20" stroke-width="1.1"/>
<line x1="469.20" y1="77.98" x2="471.30" y2="77.98" stroke="#231f20" stroke-width="1.1"/>
<line x1="469.20" y1="53.02" x2="471.30" y2="53.02" stroke="#231f20" stroke-width="1.1"/>
<text transform="translate(446.98,194.40) scale(0.9615,1)" font-size="13.73" stroke="#231f20" stroke-width="0.22" fill="#231f20">0.0</text>
<text transform="translate(447.11,169.67) scale(0.9615,1)" font-size="13.73" stroke="#231f20" stroke-width="0.22" fill="#231f20">0.2</text>
<text transform="translate(446.85,144.94) scale(0.9615,1)" font-size="13.73" stroke="#231f20" stroke-width="0.22" fill="#231f20">0.4</text>
<text transform="translate(447.05,120.21) scale(0.9615,1)" font-size="13.73" stroke="#231f20" stroke-width="0.22" fill="#231f20">0.6</text>
<text transform="translate(446.98,95.48) scale(0.9615,1)" font-size="13.73" stroke="#231f20" stroke-width="0.22" fill="#231f20">0.8</text>
<text transform="translate(446.98,70.75) scale(0.9615,1)" font-size="13.73" stroke="#231f20" stroke-width="0.22" fill="#231f20">1.0</text>
<text transform="translate(447.11,46.02) scale(0.9615,1)" font-size="13.73" stroke="#231f20" stroke-width="0.22" fill="#231f20">1.2</text>
<text transform="translate(480.81,204.50) scale(0.9615,1)" font-size="13.73" stroke="#231f20" stroke-width="0.22" fill="#231f20">500</text>
<text transform="translate(526.41,204.50) scale(0.9615,1)" font-size="13.73" stroke="#231f20" stroke-width="0.22" fill="#231f20">550</text>
<text transform="translate(571.95,204.50) scale(0.9615,1)" font-size="13.73" stroke="#231f20" stroke-width="0.22" fill="#231f20">600</text>
<text transform="translate(617.55,204.50) scale(0.9615,1)" font-size="13.73" stroke="#231f20" stroke-width="0.22" fill="#231f20">650</text>
<text transform="translate(663.14,204.50) scale(0.9615,1)" font-size="13.73" stroke="#231f20" stroke-width="0.22" fill="#231f20">700</text>
<text transform="translate(437.20,204.06) rotate(-90) scale(0.9647,1)" font-size="13.73" stroke="#231f20" stroke-width="0.22" fill="#231f20">Normalized PL intensity (a.u.)</text>
<text transform="translate(520.83,221.80) scale(0.9535,1)" font-size="13.73" stroke="#231f20" stroke-width="0.22" fill="#231f20">Wavelength (nm)</text>
<line x1="568.60" y1="49.30" x2="586.00" y2="49.30" stroke="#2a2a2a" stroke-width="1.3"/>
<text transform="translate(589.69,53.70) scale(1.0309,1)" font-size="11.06" stroke="#231f20" stroke-width="0.22" fill="#231f20">R mode w/o M</text>
<line x1="568.60" y1="64.30" x2="586.00" y2="64.30" stroke="#d9534f" stroke-width="1.3"/>
<text transform="translate(589.69,68.20) scale(1.0309,1)" font-size="11.06" stroke="#231f20" stroke-width="0.22" fill="#231f20">R mode with M</text>
<line x1="568.60" y1="78.90" x2="586.00" y2="78.90" stroke="#3535d0" stroke-width="1.3"/>
<text transform="translate(590.32,82.50) scale(1.0309,1)" font-size="11.06" stroke="#231f20" stroke-width="0.22" fill="#231f20">T mode</text>
<text transform="translate(509.57,61.10) scale(0.9338,1)" font-size="13.73" stroke="#231f20" stroke-width="0.22" fill="#231f20">Peak 1</text>
<text transform="translate(588.75,148.40) scale(0.9558,1)" font-size="13.73" stroke="#231f20" stroke-width="0.22" fill="#231f20">Peak 2</text>
<line x1="586.00" y1="149.20" x2="560.72" y2="172.60" stroke="#222" stroke-width="1.3" stroke-linecap="butt"/>
<polyline points="562.72,166.66 560.50,172.80 566.79,171.06" fill="none" stroke="#222" stroke-width="1.3" stroke-linejoin="miter" stroke-linecap="butt"/>
<text transform="translate(0.02,263.30) scale(1.0626,1)" font-size="18.24" font-weight="bold" stroke="#000" stroke-width="0.22" fill="#000">c</text>
<circle cx="84.2" cy="425.6" r="2.6" fill="url(#gk)"/>
<circle cx="90.8" cy="425.3" r="2.6" fill="url(#gk)"/>
<circle cx="99.3" cy="424.7" r="2.6" fill="url(#gk)"/>
<circle cx="109.2" cy="422.5" r="2.6" fill="url(#gk)"/>
<circle cx="120.5" cy="420.3" r="2.6" fill="url(#gk)"/>
<circle cx="134.6" cy="414.5" r="2.6" fill="url(#gk)"/>
<circle cx="152.2" cy="404.9" r="2.6" fill="url(#gk)"/>
<circle cx="173.6" cy="399.6" r="2.6" fill="url(#gk)"/>
<circle cx="202.1" cy="378.6" r="2.6" fill="url(#gk)"/>
<circle cx="241.8" cy="346.4" r="2.6" fill="url(#gk)"/>
<circle cx="301.3" cy="297.1" r="2.6" fill="url(#gk)"/>
<circle cx="84.2" cy="427.6" r="2.6" fill="url(#gb)"/>
<circle cx="90.8" cy="427.1" r="2.6" fill="url(#gb)"/>
<circle cx="99.3" cy="426.9" r="2.6" fill="url(#gb)"/>
<circle cx="109.2" cy="426.6" r="2.6" fill="url(#gb)"/>
<circle cx="120.5" cy="426.0" r="2.6" fill="url(#gb)"/>
<circle cx="134.6" cy="424.3" r="2.6" fill="url(#gb)"/>
<circle cx="152.2" cy="421.7" r="2.6" fill="url(#gb)"/>
<circle cx="173.6" cy="418.2" r="2.6" fill="url(#gb)"/>
<circle cx="202.3" cy="411.0" r="2.6" fill="url(#gb)"/>
<circle cx="241.6" cy="396.3" r="2.6" fill="url(#gb)"/>
<circle cx="301.3" cy="365.7" r="2.6" fill="url(#gb)"/>
<polyline points="83.50,424.78 84.59,424.66 85.69,424.54 86.78,424.41 87.88,424.29 88.97,424.16 90.07,424.02 91.16,423.88 92.26,423.74 93.35,423.60 94.44,423.46 95.54,423.31 96.63,423.15 97.73,423.00 98.82,422.84 99.92,422.67 101.01,422.50 102.11,422.33 103.20,422.16 104.29,421.98 105.39,421.80 106.48,421.61 107.58,421.42 108.67,421.22 109.77,421.02 110.86,420.82 111.96,420.61 113.05,420.40 114.15,420.18 115.24,419.96 116.33,419.73 117.43,419.50 118.52,419.26 119.62,419.02 120.71,418.77 121.81,418.52 122.90,418.26 124.00,418.00 125.09,417.73 126.18,417.46 127.28,417.18 128.37,416.89 129.47,416.60 130.56,416.30 131.66,416.00 132.75,415.69 133.85,415.37 134.94,415.05 136.03,414.72 137.13,414.38 138.22,414.04 139.32,413.69 140.41,413.33 141.51,412.97 142.60,412.60 143.70,412.22 144.79,411.83 145.88,411.44 146.98,411.04 148.07,410.63 149.17,410.22 150.26,409.79 151.36,409.36 152.45,408.92 153.55,408.48 154.64,408.02 155.74,407.56 156.83,407.09 157.92,406.61 159.02,406.12 160.11,405.62 161.21,405.12 162.30,404.60 163.40,404.08 164.49,403.55 165.59,403.00 166.68,402.45 167.77,401.90 168.87,401.33 169.96,400.75 171.06,400.16 172.15,399.57 173.25,398.96 174.34,398.35 175.44,397.73 176.53,397.09 177.62,396.45 178.72,395.80 179.81,395.14 180.91,394.47 182.00,393.79 183.10,393.10 184.19,392.40 185.29,391.69 186.38,390.97 187.47,390.25 188.57,389.51 189.66,388.76 190.76,388.01 191.85,387.25 192.95,386.47 194.04,385.69 195.14,384.90 196.23,384.10 197.33,383.29 198.42,382.47 199.51,381.65 200.61,380.81 201.70,379.97 202.80,379.12 203.89,378.26 204.99,377.39 206.08,376.52 207.18,375.64 208.27,374.75 209.36,373.85 210.46,372.94 211.55,372.03 212.65,371.11 213.74,370.19 214.84,369.26 215.93,368.32 217.03,367.38 218.12,366.43 219.21,365.47 220.31,364.52 221.40,363.55 222.50,362.58 223.59,361.61 224.69,360.63 225.78,359.65 226.88,358.66 227.97,357.67 229.06,356.68 230.16,355.68 231.25,354.68 232.35,353.68 233.44,352.68 234.54,351.68 235.63,350.67 236.73,349.66 237.82,348.66 238.92,347.65 240.01,346.64 241.10,345.63 242.20,344.62 243.29,343.61 244.39,342.61 245.48,341.60 246.58,340.60 247.67,339.59 248.77,338.59 249.86,337.59 250.95,336.60 252.05,335.61 253.14,334.62 254.24,333.63 255.33,332.65 256.43,331.67 257.52,330.70 258.62,329.73 259.71,328.76 260.80,327.80 261.90,326.85 262.99,325.90 264.09,324.96 265.18,324.02 266.28,323.09 267.37,322.16 268.47,321.25 269.56,320.33 270.65,319.43 271.75,318.53 272.84,317.64 273.94,316.76 275.03,315.89 276.13,315.02 277.22,314.16 278.32,313.31 279.41,312.47 280.51,311.63 281.60,310.81 282.69,309.99 283.79,309.18 284.88,308.38 285.98,307.59 287.07,306.81 288.17,306.04 289.26,305.27 290.36,304.52 291.45,303.78 292.54,303.04 293.64,302.31 294.73,301.60 295.83,300.89 296.92,300.19 298.02,299.50 299.11,298.82 300.21,298.15 301.30,297.49" fill="none" stroke="#e03a3a" stroke-width="1.2" stroke-linejoin="round" stroke-linecap="round"/>
<polyline points="83.50,427.67 84.59,427.63 85.69,427.58 86.78,427.54 87.88,427.49 88.97,427.44 90.07,427.39 91.16,427.34 92.26,427.28 93.35,427.23 94.44,427.17 95.54,427.12 96.63,427.06 97.73,427.00 98.82,426.94 99.92,426.88 101.01,426.82 102.11,426.76 103.20,426.69 104.29,426.63 105.39,426.56 106.48,426.49 107.58,426.42 108.67,426.35 109.77,426.28 110.86,426.20 111.96,426.13 113.05,426.05 114.15,425.97 115.24,425.89 116.33,425.81 117.43,425.73 118.52,425.64 119.62,425.55 120.71,425.46 121.81,425.37 122.90,425.28 124.00,425.19 125.09,425.09 126.18,424.99 127.28,424.89 128.37,424.79 129.47,424.69 130.56,424.58 131.66,424.47 132.75,424.36 133.85,424.25 134.94,424.13 136.03,424.02 137.13,423.90 138.22,423.78 139.32,423.65 140.41,423.53 141.51,423.40 142.60,423.27 143.70,423.13 144.79,423.00 145.88,422.86 146.98,422.72 148.07,422.57 149.17,422.42 150.26,422.28 151.36,422.12 152.45,421.97 153.55,421.81 154.64,421.65 155.74,421.48 156.83,421.32 157.92,421.15 159.02,420.97 160.11,420.80 161.21,420.62 162.30,420.43 163.40,420.25 164.49,420.06 165.59,419.87 166.68,419.67 167.77,419.47 168.87,419.27 169.96,419.06 171.06,418.85 172.15,418.63 173.25,418.42 174.34,418.20 175.44,417.97 176.53,417.74 177.62,417.51 178.72,417.27 179.81,417.03 180.91,416.79 182.00,416.54 183.10,416.28 184.19,416.03 185.29,415.77 186.38,415.50 187.47,415.23 188.57,414.96 189.66,414.68 190.76,414.40 191.85,414.11 192.95,413.82 194.04,413.52 195.14,413.22 196.23,412.92 197.33,412.61 198.42,412.29 199.51,411.97 200.61,411.65 201.70,411.32 202.80,410.99 203.89,410.65 204.99,410.31 206.08,409.97 207.18,409.61 208.27,409.26 209.36,408.90 210.46,408.53 211.55,408.16 212.65,407.79 213.74,407.41 214.84,407.02 215.93,406.63 217.03,406.24 218.12,405.84 219.21,405.43 220.31,405.02 221.40,404.61 222.50,404.19 223.59,403.77 224.69,403.34 225.78,402.91 226.88,402.47 227.97,402.03 229.06,401.58 230.16,401.13 231.25,400.68 232.35,400.22 233.44,399.75 234.54,399.28 235.63,398.81 236.73,398.33 237.82,397.85 238.92,397.36 240.01,396.87 241.10,396.38 242.20,395.88 243.29,395.37 244.39,394.87 245.48,394.36 246.58,393.84 247.67,393.33 248.77,392.80 249.86,392.28 250.95,391.75 252.05,391.22 253.14,390.68 254.24,390.15 255.33,389.61 256.43,389.06 257.52,388.52 258.62,387.97 259.71,387.41 260.80,386.86 261.90,386.30 262.99,385.74 264.09,385.18 265.18,384.62 266.28,384.05 267.37,383.49 268.47,382.92 269.56,382.35 270.65,381.77 271.75,381.20 272.84,380.63 273.94,380.05 275.03,379.48 276.13,378.90 277.22,378.32 278.32,377.74 279.41,377.16 280.51,376.59 281.60,376.01 282.69,375.43 283.79,374.85 284.88,374.27 285.98,373.69 287.07,373.12 288.17,372.54 289.26,371.96 290.36,371.39 291.45,370.82 292.54,370.24 293.64,369.67 294.73,369.10 295.83,368.53 296.92,367.97 298.02,367.40 299.11,366.84 300.21,366.28 301.30,365.72" fill="none" stroke="#e03a3a" stroke-width="1.2" stroke-linejoin="round" stroke-linecap="round"/>
<rect x="71.60" y="280.00" width="251.00" height="149.80" fill="none" stroke="#333" stroke-width="1.2"/>
<line x1="99.30" y1="429.80" x2="99.30" y2="426.40" stroke="#231f20" stroke-width="1.1"/>
<line x1="155.10" y1="429.80" x2="155.10" y2="426.40" stroke="#231f20" stroke-width="1.1"/>
<line x1="210.90" y1="429.80" x2="210.90" y2="426.40" stroke="#231f20" stroke-width="1.1"/>
<line x1="266.70" y1="429.80" x2="266.70" y2="426.40" stroke="#231f20" stroke-width="1.1"/>
<line x1="127.20" y1="429.80" x2="127.20" y2="427.70" stroke="#231f20" stroke-width="1.1"/>
<line x1="183.00" y1="429.80" x2="183.00" y2="427.70" stroke="#231f20" stroke-width="1.1"/>
<line x1="238.80" y1="429.80" x2="238.80" y2="427.70" stroke="#231f20" stroke-width="1.1"/>
<line x1="294.60" y1="429.80" x2="294.60" y2="427.70" stroke="#231f20" stroke-width="1.1"/>
<line x1="71.60" y1="427.80" x2="75.00" y2="427.80" stroke="#231f20" stroke-width="1.1"/>
<line x1="71.60" y1="406.70" x2="75.00" y2="406.70" stroke="#231f20" stroke-width="1.1"/>
<line x1="71.60" y1="385.60" x2="75.00" y2="385.60" stroke="#231f20" stroke-width="1.1"/>
<line x1="71.60" y1="364.50" x2="75.00" y2="364.50" stroke="#231f20" stroke-width="1.1"/>
<line x1="71.60" y1="343.40" x2="75.00" y2="343.40" stroke="#231f20" stroke-width="1.1"/>
<line x1="71.60" y1="322.30" x2="75.00" y2="322.30" stroke="#231f20" stroke-width="1.1"/>
<line x1="71.60" y1="301.20" x2="75.00" y2="301.20" stroke="#231f20" stroke-width="1.1"/>
<line x1="71.60" y1="417.25" x2="73.70" y2="417.25" stroke="#231f20" stroke-width="1.1"/>
<line x1="71.60" y1="396.15" x2="73.70" y2="396.15" stroke="#231f20" stroke-width="1.1"/>
<line x1="71.60" y1="375.05" x2="73.70" y2="375.05" stroke="#231f20" stroke-width="1.1"/>
<line x1="71.60" y1="353.95" x2="73.70" y2="353.95" stroke="#231f20" stroke-width="1.1"/>
<line x1="71.60" y1="332.85" x2="73.70" y2="332.85" stroke="#231f20" stroke-width="1.1"/>
<line x1="71.60" y1="311.75" x2="73.70" y2="311.75" stroke="#231f20" stroke-width="1.1"/>
<line x1="71.60" y1="290.65" x2="73.70" y2="290.65" stroke="#231f20" stroke-width="1.1"/>
<text transform="translate(81.63,444.00) scale(0.9615,1)" font-size="13.73" stroke="#231f20" stroke-width="0.22" fill="#231f20">0.004</text>
<text transform="translate(136.63,444.00) scale(0.9615,1)" font-size="13.73" stroke="#231f20" stroke-width="0.22" fill="#231f20">0.006</text>
<text transform="translate(191.90,444.00) scale(0.9615,1)" font-size="13.73" stroke="#231f20" stroke-width="0.22" fill="#231f20">0.008</text>
<text transform="translate(247.30,444.00) scale(0.9615,1)" font-size="13.73" stroke="#231f20" stroke-width="0.22" fill="#231f20">0.010</text>
<text transform="translate(302.87,444.00) scale(0.9615,1)" font-size="13.73" stroke="#231f20" stroke-width="0.22" fill="#231f20">0.012</text>
<text transform="translate(60.02,432.20) scale(1.0309,1)" font-size="11.83" stroke="#231f20" stroke-width="0.22" fill="#231f20">0</text>
<text transform="translate(32.36,411.30) scale(1.0928,1)" font-size="11.45" stroke="#231f20" stroke-width="0.22" fill="#231f20">1×10</text>
<text transform="translate(60.56,405.50) scale(1.0309,1)" font-size="8.15" stroke="#231f20" stroke-width="0.22" fill="#231f20">5</text>
<text transform="translate(32.36,390.20) scale(1.0928,1)" font-size="11.45" stroke="#231f20" stroke-width="0.22" fill="#231f20">2×10</text>
<text transform="translate(60.56,384.40) scale(1.0309,1)" font-size="8.15" stroke="#231f20" stroke-width="0.22" fill="#231f20">5</text>
<text transform="translate(32.36,369.10) scale(1.0928,1)" font-size="11.45" stroke="#231f20" stroke-width="0.22" fill="#231f20">3×10</text>
<text transform="translate(60.56,363.30) scale(1.0309,1)" font-size="8.15" stroke="#231f20" stroke-width="0.22" fill="#231f20">5</text>
<text transform="translate(32.36,348.00) scale(1.0928,1)" font-size="11.45" stroke="#231f20" stroke-width="0.22" fill="#231f20">4×10</text>
<text transform="translate(60.56,342.20) scale(1.0309,1)" font-size="8.15" stroke="#231f20" stroke-width="0.22" fill="#231f20">5</text>
<text transform="translate(32.36,326.90) scale(1.0928,1)" font-size="11.45" stroke="#231f20" stroke-width="0.22" fill="#231f20">5×10</text>
<text transform="translate(60.56,321.10) scale(1.0309,1)" font-size="8.15" stroke="#231f20" stroke-width="0.22" fill="#231f20">5</text>
<text transform="translate(32.36,305.80) scale(1.0928,1)" font-size="11.45" stroke="#231f20" stroke-width="0.22" fill="#231f20">6×10</text>
<text transform="translate(60.56,300.00) scale(1.0309,1)" font-size="8.15" stroke="#231f20" stroke-width="0.22" fill="#231f20">5</text>
<text transform="translate(32.36,284.70) scale(1.0928,1)" font-size="11.45" stroke="#231f20" stroke-width="0.22" fill="#231f20">7×10</text>
<text transform="translate(60.56,278.90) scale(1.0309,1)" font-size="8.15" stroke="#231f20" stroke-width="0.22" fill="#231f20">5</text>
<text transform="translate(22.30,437.59) rotate(-90) scale(0.9630,1)" font-size="13.73" stroke="#231f20" stroke-width="0.22" fill="#231f20">Integrated PL intensity (a.u.)</text>
<text transform="translate(170.20,462.60) scale(0.9615,1)" font-size="13.73" stroke="#231f20" stroke-width="0.22" fill="#231f20">1/<tspan font-style="italic">T</tspan> (K<tspan font-size="8.84" dy="-5.2">−1</tspan><tspan dy="5.2">)</tspan></text>
<circle cx="84.9" cy="290.9" r="2.6" fill="url(#gk)"/>
<circle cx="84.9" cy="305.9" r="2.6" fill="url(#gb)"/>
<text transform="translate(90.31,295.90) scale(1.0108,1)" font-size="10.99" stroke="#231f20" stroke-width="0.22" fill="#231f20">Peak 1</text>
<text transform="translate(90.31,310.10) scale(1.0101,1)" font-size="10.99" stroke="#231f20" stroke-width="0.22" fill="#231f20">Peak 2</text>
<text transform="translate(130.70,362.20) scale(0.9615,1)" font-size="13.73" stroke="#231f20" stroke-width="0.22" fill="#231f20"><tspan font-style="italic">E</tspan><tspan font-size="9.36" dx="-0.8" dy="3.9">a1</tspan><tspan dx="0.4" dy="-3.9"> = 58.6 meV</tspan></text>
<text transform="translate(212.50,420.60) scale(0.9615,1)" font-size="13.73" stroke="#231f20" stroke-width="0.22" fill="#231f20"><tspan font-style="italic">E</tspan><tspan font-size="9.36" dx="-0.8" dy="3.9">a2</tspan><tspan dx="0.4" dy="-3.9"> = 59.7 meV</tspan></text>
<text transform="translate(355.62,263.00) scale(1.0748,1)" font-size="18.24" font-weight="bold" stroke="#000" stroke-width="0.22" fill="#000">d</text>
<rect x="420.40" y="279.90" width="251.50" height="149.40" fill="none" stroke="#333" stroke-width="1.2"/>
<polyline points="420.60,428.73 421.02,428.67 421.44,428.61 421.86,428.54 422.28,428.47 422.70,428.40 423.11,428.33 423.53,428.25 423.95,428.17 424.37,428.09 424.79,428.00 425.21,427.91 425.63,427.82 426.05,427.73 426.47,427.64 426.89,427.54 427.30,427.44 427.72,427.35 428.14,427.25 428.56,427.14 428.98,427.04 429.40,426.93 429.82,426.82 430.24,426.71 430.66,426.59 431.08,426.46 431.49,426.33 431.91,426.19 432.33,426.05 432.75,425.89 433.17,425.73 433.59,425.55 434.01,425.36 434.43,425.15 434.85,424.93 435.27,424.70 435.69,424.45 436.10,424.19 436.52,423.91 436.94,423.63 437.36,423.32 437.78,423.01 438.20,422.68 438.62,422.32 439.04,421.94 439.46,421.53 439.88,421.09 440.29,420.63 440.71,420.14 441.13,419.63 441.55,419.09 441.97,418.53 442.39,417.95 442.81,417.34 443.23,416.72 443.65,416.04 444.07,415.29 444.48,414.49 444.90,413.63 445.32,412.73 445.74,411.80 446.16,410.85 446.58,409.88 447.00,408.86 447.42,407.81 447.84,406.70 448.26,405.54 448.68,404.33 449.09,403.05 449.51,401.69 449.93,400.18 450.35,398.57 450.77,396.92 451.19,395.27 451.61,393.66 452.03,392.08 452.45,390.43 452.87,388.64 453.28,386.61 453.70,384.27 454.12,381.64 454.54,378.79 454.96,375.79 455.38,372.71 455.80,369.61 456.22,366.39 456.64,362.94 457.06,359.36 457.47,355.74 457.89,352.17 458.31,348.75 458.73,345.56 459.15,342.71 459.57,340.11 459.99,337.40 460.41,334.30 460.83,330.92 461.25,327.41 461.67,323.95 462.08,320.52 462.50,317.05 462.92,313.69 463.34,310.56 463.76,307.36 464.18,304.11 464.60,301.18 465.02,298.96 465.44,297.74 465.86,296.87 466.27,296.09 466.69,295.40 467.11,294.81 467.53,294.33 467.95,293.98 468.37,293.76 468.79,293.68 469.21,293.80 469.63,294.15 470.05,294.69 470.46,295.40 470.88,296.22 471.30,297.13 471.72,298.09 472.14,299.43 472.56,301.28 472.98,303.49 473.40,305.88 473.82,308.29 474.24,310.54 474.66,312.60 475.07,314.65 475.49,316.70 475.91,318.75 476.33,320.82 476.75,322.91 477.17,325.03 477.59,327.18 478.01,329.34 478.43,331.52 478.85,333.71 479.26,335.91 479.68,338.09 480.10,340.25 480.52,342.45 480.94,344.73 481.36,347.18 481.78,349.81 482.20,352.51 482.62,355.19 483.04,357.74 483.45,360.08 483.87,362.19 484.29,364.16 484.71,366.07 485.13,367.96 485.55,369.91 485.97,371.99 486.39,374.18 486.81,376.34 487.23,378.30 487.65,379.94 488.06,381.31 488.48,382.54 488.90,383.74 489.32,384.99 489.74,386.24 490.16,387.50 490.58,388.74 491.00,389.96 491.42,391.16 491.84,392.33 492.25,393.53 492.67,394.74 493.09,395.96 493.51,397.16 493.93,398.32 494.35,399.42 494.77,400.45 495.19,401.38 495.61,402.19 496.03,402.93 496.44,403.64 496.86,404.32 497.28,404.96 497.70,405.55 498.12,406.10 498.54,406.58 498.96,406.99 499.38,407.34 499.80,407.64 500.22,407.93 500.64,408.21 501.05,408.47 501.47,408.70 501.89,408.90 502.31,409.06 502.73,409.18 503.15,409.25 503.57,409.28 503.99,409.29 504.41,409.31 504.83,409.32 505.24,409.32 505.66,409.33 506.08,409.34 506.50,409.34 506.92,409.35 507.34,409.36 507.76,409.37 508.18,409.39 508.60,409.42 509.02,409.48 509.43,409.59 509.85,409.73 510.27,409.91 510.69,410.11 511.11,410.34 511.53,410.58 511.95,410.83 512.37,411.09 512.79,411.35 513.21,411.62 513.63,411.87 514.04,412.13 514.46,412.42 514.88,412.72 515.30,413.05 515.72,413.39 516.14,413.73 516.56,414.09 516.98,414.46 517.40,414.82 517.82,415.19 518.23,415.55 518.65,415.90 519.07,416.25 519.49,416.59 519.91,416.94 520.33,417.29 520.75,417.65 521.17,418.01 521.59,418.37 522.01,418.73 522.42,419.08 522.84,419.43 523.26,419.76 523.68,420.09 524.10,420.39 524.52,420.68 524.94,420.95 525.36,421.20 525.78,421.44 526.20,421.68 526.62,421.91 527.03,422.13 527.45,422.35 527.87,422.56 528.29,422.76 528.71,422.95 529.13,423.14 529.55,423.32 529.97,423.49 530.39,423.66 530.81,423.81 531.22,423.97 531.64,424.11 532.06,424.26 532.48,424.40 532.90,424.54 533.32,424.67 533.74,424.81 534.16,424.93 534.58,425.06 535.00,425.18 535.41,425.30 535.83,425.41 536.25,425.52 536.67,425.63 537.09,425.74 537.51,425.84 537.93,425.93 538.35,426.03 538.77,426.12 539.19,426.20 539.61,426.29 540.02,426.37 540.44,426.46 540.86,426.54 541.28,426.62 541.70,426.70 542.12,426.78 542.54,426.85 542.96,426.93 543.38,427.00 543.80,427.07 544.21,427.14 544.63,427.20 545.05,427.27 545.47,427.33 545.89,427.38 546.31,427.44 546.73,427.49 547.15,427.54 547.57,427.58 547.99,427.63 548.40,427.66 548.82,427.70 549.24,427.74 549.66,427.77 550.08,427.80 550.50,427.83 550.92,427.87 551.34,427.89 551.76,427.92 552.18,427.95 552.59,427.98 553.01,428.01 553.43,428.03 553.85,428.06 554.27,428.08 554.69,428.10 555.11,428.13 555.53,428.15 555.95,428.17 556.37,428.19 556.79,428.21 557.20,428.23 557.62,428.25 558.04,428.27 558.46,428.28 558.88,428.30 559.30,428.32 559.72,428.33 560.14,428.35 560.56,428.37 560.98,428.38 561.39,428.40 561.81,428.41 562.23,428.43 562.65,428.45 563.07,428.46 563.49,428.48 563.91,428.49 564.33,428.51 564.75,428.52 565.17,428.54 565.58,428.55 566.00,428.57 566.42,428.58 566.84,428.59 567.26,428.61 567.68,428.62 568.10,428.63 568.52,428.65 568.94,428.66 569.36,428.67 569.78,428.69 570.19,428.70 570.61,428.71 571.03,428.72 571.45,428.73 571.87,428.74 572.29,428.75 572.71,428.76 573.13,428.78 573.55,428.78 573.97,428.79 574.38,428.80 574.80,428.81 575.22,428.82 575.64,428.83 576.06,428.84 576.48,428.84 576.90,428.85 577.32,428.86 577.74,428.86 578.16,428.87 578.57,428.88 578.99,428.88 579.41,428.89 579.83,428.89 580.25,428.89 580.67,428.90 581.09,428.90 581.51,428.90 581.93,428.91 582.35,428.91 582.77,428.92 583.18,428.92 583.60,428.92 584.02,428.93 584.44,428.93 584.86,428.93 585.28,428.94 585.70,428.94 586.12,428.94 586.54,428.95 586.96,428.95 587.37,428.95 587.79,428.96 588.21,428.96 588.63,428.97 589.05,428.97 589.47,428.97 589.89,428.98 590.31,428.98 590.73,428.98 591.15,428.99 591.56,428.99 591.98,428.99 592.40,429.00 592.82,429.00 593.24,429.00 593.66,429.00 594.08,429.01 594.50,429.01 594.92,429.01 595.34,429.02 595.76,429.02 596.17,429.02 596.59,429.03 597.01,429.03 597.43,429.03 597.85,429.04 598.27,429.04 598.69,429.04 599.11,429.05 599.53,429.05 599.95,429.05 600.36,429.05 600.78,429.06 601.20,429.06 601.62,429.06 602.04,429.07 602.46,429.07 602.88,429.07 603.30,429.07 603.72,429.08 604.14,429.08 604.55,429.08 604.97,429.08 605.39,429.09 605.81,429.09 606.23,429.09 606.65,429.10 607.07,429.10 607.49,429.10 607.91,429.10 608.33,429.11 608.75,429.11 609.16,429.11 609.58,429.11 610.00,429.12 610.42,429.12 610.84,429.12 611.26,429.12 611.68,429.13 612.10,429.13 612.52,429.13 612.94,429.13 613.35,429.14 613.77,429.14 614.19,429.14 614.61,429.14 615.03,429.15 615.45,429.15 615.87,429.15 616.29,429.15 616.71,429.15 617.13,429.16 617.54,429.16 617.96,429.16 618.38,429.16 618.80,429.17 619.22,429.17 619.64,429.17 620.06,429.17 620.48,429.17 620.90,429.18 621.32,429.18 621.74,429.18 622.15,429.18 622.57,429.18 622.99,429.19 623.41,429.19 623.83,429.19 624.25,429.19 624.67,429.19 625.09,429.20 625.51,429.20 625.93,429.20 626.34,429.20 626.76,429.20 627.18,429.20 627.60,429.21 628.02,429.21 628.44,429.21 628.86,429.21 629.28,429.21 629.70,429.22 630.12,429.22 630.53,429.22 630.95,429.22 631.37,429.22 631.79,429.22 632.21,429.22 632.63,429.23 633.05,429.23 633.47,429.23 633.89,429.23 634.31,429.23 634.73,429.23 635.14,429.24 635.56,429.24 635.98,429.24 636.40,429.24 636.82,429.24 637.24,429.24 637.66,429.24 638.08,429.25 638.50,429.25 638.92,429.25 639.33,429.25 639.75,429.25 640.17,429.25 640.59,429.25 641.01,429.25 641.43,429.26 641.85,429.26 642.27,429.26 642.69,429.26 643.11,429.26 643.52,429.26 643.94,429.26 644.36,429.26 644.78,429.27 645.20,429.27 645.62,429.27 646.04,429.27 646.46,429.27 646.88,429.27 647.30,429.27 647.72,429.27 648.13,429.27 648.55,429.27 648.97,429.28 649.39,429.28 649.81,429.28 650.23,429.28 650.65,429.28 651.07,429.28 651.49,429.28 651.91,429.28 652.32,429.28 652.74,429.28 653.16,429.28 653.58,429.28 654.00,429.28 654.42,429.29 654.84,429.29 655.26,429.29 655.68,429.29 656.10,429.29 656.51,429.29 656.93,429.29 657.35,429.29 657.77,429.29 658.19,429.29 658.61,429.29 659.03,429.29 659.45,429.29 659.87,429.29 660.29,429.29 660.71,429.29 661.12,429.29 661.54,429.29 661.96,429.30 662.38,429.30 662.80,429.30 663.22,429.30 663.64,429.30 664.06,429.30 664.48,429.30 664.90,429.30 665.31,429.30 665.73,429.30 666.15,429.30 666.57,429.30 666.99,429.30 667.41,429.30 667.83,429.30 668.25,429.30 668.67,429.30 669.09,429.30 669.50,429.30 669.92,429.30 670.34,429.30 670.76,429.30 671.18,429.30 671.60,429.30" fill="none" stroke="#1a1a1a" stroke-width="1.45" stroke-linejoin="round" stroke-linecap="round"/>
<polyline points="420.60,428.05 421.02,427.99 421.44,427.93 421.86,427.86 422.28,427.79 422.70,427.71 423.11,427.63 423.53,427.55 423.95,427.46 424.37,427.37 424.79,427.27 425.21,427.18 425.63,427.08 426.05,426.97 426.47,426.87 426.89,426.76 427.30,426.65 427.72,426.54 428.14,426.43 428.56,426.31 428.98,426.19 429.40,426.06 429.82,425.93 430.24,425.80 430.66,425.65 431.08,425.50 431.49,425.35 431.91,425.18 432.33,425.01 432.75,424.82 433.17,424.63 433.59,424.43 434.01,424.21 434.43,423.97 434.85,423.72 435.27,423.45 435.69,423.17 436.10,422.88 436.52,422.56 436.94,422.24 437.36,421.90 437.78,421.54 438.20,421.17 438.62,420.76 439.04,420.32 439.46,419.85 439.88,419.34 440.29,418.81 440.71,418.24 441.13,417.66 441.55,417.04 441.97,416.41 442.39,415.76 442.81,415.05 443.23,414.30 443.65,413.50 444.07,412.67 444.48,411.79 444.90,410.88 445.32,409.94 445.74,408.93 446.16,407.87 446.58,406.75 447.00,405.58 447.42,404.37 447.84,403.13 448.26,401.87 448.68,400.61 449.09,399.36 449.51,398.08 449.93,396.76 450.35,395.37 450.77,393.88 451.19,392.28 451.61,390.54 452.03,388.62 452.45,386.35 452.87,383.74 453.28,380.88 453.70,377.84 454.12,374.70 454.54,371.53 454.96,368.39 455.38,365.06 455.80,361.55 456.22,357.94 456.64,354.34 457.06,350.82 457.47,347.48 457.89,344.41 458.31,341.70 458.73,339.09 459.15,336.25 459.57,333.02 459.99,329.57 460.41,326.06 460.83,322.64 461.25,319.18 461.67,315.73 462.08,312.44 462.50,309.36 462.92,306.10 463.34,302.93 463.76,300.23 464.18,298.37 464.60,297.39 465.02,296.53 465.44,295.76 465.86,295.10 466.27,294.55 466.69,294.13 467.11,293.84 467.53,293.69 467.95,293.72 468.37,293.97 468.79,294.42 469.21,295.02 469.63,295.76 470.05,296.60 470.46,297.51 470.88,298.53 471.30,300.06 471.72,302.06 472.14,304.35 472.56,306.77 472.98,309.16 473.40,311.35 473.82,313.45 474.24,315.56 474.66,317.69 475.07,319.84 475.49,322.03 475.91,324.27 476.33,326.59 476.75,328.98 477.17,331.38 477.59,333.77 478.01,336.11 478.43,338.31 478.85,340.35 479.26,342.49 479.68,344.96 480.10,348.21 480.52,352.15 480.94,356.14 481.36,359.52 481.78,362.04 482.20,364.18 482.62,366.14 483.04,368.17 483.45,370.47 483.87,373.20 484.29,376.17 484.71,379.16 485.13,381.95 485.55,384.39 485.97,386.73 486.39,388.98 486.81,391.11 487.23,393.07 487.65,394.82 488.06,396.35 488.48,397.75 488.90,399.07 489.32,400.32 489.74,401.48 490.16,402.57 490.58,403.59 491.00,404.54 491.42,405.43 491.84,406.26 492.25,407.05 492.67,407.80 493.09,408.53 493.51,409.23 493.93,409.89 494.35,410.53 494.77,411.13 495.19,411.71 495.61,412.26 496.03,412.77 496.44,413.26 496.86,413.72 497.28,414.16 497.70,414.59 498.12,415.00 498.54,415.40 498.96,415.78 499.38,416.16 499.80,416.51 500.22,416.86 500.64,417.19 501.05,417.50 501.47,417.80 501.89,418.09 502.31,418.36 502.73,418.62 503.15,418.86 503.57,419.09 503.99,419.30 504.41,419.50 504.83,419.70 505.24,419.88 505.66,420.05 506.08,420.22 506.50,420.38 506.92,420.54 507.34,420.69 507.76,420.85 508.18,421.00 508.60,421.15 509.02,421.30 509.43,421.46 509.85,421.61 510.27,421.78 510.69,421.95 511.11,422.12 511.53,422.31 511.95,422.50 512.37,422.70 512.79,422.89 513.21,423.09 513.63,423.28 514.04,423.46 514.46,423.64 514.88,423.80 515.30,423.96 515.72,424.11 516.14,424.26 516.56,424.41 516.98,424.56 517.40,424.71 517.82,424.86 518.23,425.00 518.65,425.14 519.07,425.28 519.49,425.42 519.91,425.55 520.33,425.68 520.75,425.81 521.17,425.93 521.59,426.05 522.01,426.17 522.42,426.28 522.84,426.38 523.26,426.48 523.68,426.58 524.10,426.67 524.52,426.76 524.94,426.84 525.36,426.91 525.78,426.98 526.20,427.06 526.62,427.13 527.03,427.20 527.45,427.26 527.87,427.33 528.29,427.40 528.71,427.46 529.13,427.52 529.55,427.58 529.97,427.64 530.39,427.69 530.81,427.75 531.22,427.80 531.64,427.85 532.06,427.90 532.48,427.95 532.90,428.00 533.32,428.04 533.74,428.09 534.16,428.13 534.58,428.17 535.00,428.21 535.41,428.24 535.83,428.28 536.25,428.31 536.67,428.34 537.09,428.37 537.51,428.41 537.93,428.44 538.35,428.47 538.77,428.50 539.19,428.53 539.61,428.56 540.02,428.59 540.44,428.62 540.86,428.64 541.28,428.67 541.70,428.70 542.12,428.73 542.54,428.75 542.96,428.78 543.38,428.80 543.80,428.82 544.21,428.85 544.63,428.87 545.05,428.89 545.47,428.91 545.89,428.93 546.31,428.94 546.73,428.96 547.15,428.97 547.57,428.98 547.99,429.00 548.40,429.01 548.82,429.01 549.24,429.02 549.66,429.02 550.08,429.03 550.50,429.03 550.92,429.03 551.34,429.03 551.76,429.04 552.18,429.04 552.59,429.04 553.01,429.04 553.43,429.05 553.85,429.05 554.27,429.05 554.69,429.05 555.11,429.06 555.53,429.06 555.95,429.06 556.37,429.06 556.79,429.06 557.20,429.07 557.62,429.07 558.04,429.07 558.46,429.07 558.88,429.07 559.30,429.08 559.72,429.08 560.14,429.08 560.56,429.08 560.98,429.09 561.39,429.09 561.81,429.09 562.23,429.09 562.65,429.09 563.07,429.10 563.49,429.10 563.91,429.10 564.33,429.10 564.75,429.10 565.17,429.10 565.58,429.11 566.00,429.11 566.42,429.11 566.84,429.11 567.26,429.11 567.68,429.12 568.10,429.12 568.52,429.12 568.94,429.12 569.36,429.12 569.78,429.13 570.19,429.13 570.61,429.13 571.03,429.13 571.45,429.13 571.87,429.13 572.29,429.14 572.71,429.14 573.13,429.14 573.55,429.14 573.97,429.14 574.38,429.14 574.80,429.15 575.22,429.15 575.64,429.15 576.06,429.15 576.48,429.15 576.90,429.15 577.32,429.16 577.74,429.16 578.16,429.16 578.57,429.16 578.99,429.16 579.41,429.16 579.83,429.16 580.25,429.17 580.67,429.17 581.09,429.17 581.51,429.17 581.93,429.17 582.35,429.17 582.77,429.18 583.18,429.18 583.60,429.18 584.02,429.18 584.44,429.18 584.86,429.18 585.28,429.18 585.70,429.19 586.12,429.19 586.54,429.19 586.96,429.19 587.37,429.19 587.79,429.19 588.21,429.19 588.63,429.19 589.05,429.20 589.47,429.20 589.89,429.20 590.31,429.20 590.73,429.20 591.15,429.20 591.56,429.20 591.98,429.20 592.40,429.21 592.82,429.21 593.24,429.21 593.66,429.21 594.08,429.21 594.50,429.21 594.92,429.21 595.34,429.21 595.76,429.22 596.17,429.22 596.59,429.22 597.01,429.22 597.43,429.22 597.85,429.22 598.27,429.22 598.69,429.22 599.11,429.22 599.53,429.22 599.95,429.23 600.36,429.23 600.78,429.23 601.20,429.23 601.62,429.23 602.04,429.23 602.46,429.23 602.88,429.23 603.30,429.23 603.72,429.23 604.14,429.24 604.55,429.24 604.97,429.24 605.39,429.24 605.81,429.24 606.23,429.24 606.65,429.24 607.07,429.24 607.49,429.24 607.91,429.24 608.33,429.24 608.75,429.25 609.16,429.25 609.58,429.25 610.00,429.25 610.42,429.25 610.84,429.25 611.26,429.25 611.68,429.25 612.10,429.25 612.52,429.25 612.94,429.25 613.35,429.25 613.77,429.26 614.19,429.26 614.61,429.26 615.03,429.26 615.45,429.26 615.87,429.26 616.29,429.26 616.71,429.26 617.13,429.26 617.54,429.26 617.96,429.26 618.38,429.26 618.80,429.26 619.22,429.26 619.64,429.27 620.06,429.27 620.48,429.27 620.90,429.27 621.32,429.27 621.74,429.27 622.15,429.27 622.57,429.27 622.99,429.27 623.41,429.27 623.83,429.27 624.25,429.27 624.67,429.27 625.09,429.27 625.51,429.27 625.93,429.27 626.34,429.27 626.76,429.28 627.18,429.28 627.60,429.28 628.02,429.28 628.44,429.28 628.86,429.28 629.28,429.28 629.70,429.28 630.12,429.28 630.53,429.28 630.95,429.28 631.37,429.28 631.79,429.28 632.21,429.28 632.63,429.28 633.05,429.28 633.47,429.28 633.89,429.28 634.31,429.28 634.73,429.28 635.14,429.28 635.56,429.28 635.98,429.29 636.40,429.29 636.82,429.29 637.24,429.29 637.66,429.29 638.08,429.29 638.50,429.29 638.92,429.29 639.33,429.29 639.75,429.29 640.17,429.29 640.59,429.29 641.01,429.29 641.43,429.29 641.85,429.29 642.27,429.29 642.69,429.29 643.11,429.29 643.52,429.29 643.94,429.29 644.36,429.29 644.78,429.29 645.20,429.29 645.62,429.29 646.04,429.29 646.46,429.29 646.88,429.29 647.30,429.29 647.72,429.29 648.13,429.29 648.55,429.29 648.97,429.29 649.39,429.29 649.81,429.29 650.23,429.30 650.65,429.30 651.07,429.30 651.49,429.30 651.91,429.30 652.32,429.30 652.74,429.30 653.16,429.30 653.58,429.30 654.00,429.30 654.42,429.30 654.84,429.30 655.26,429.30 655.68,429.30 656.10,429.30 656.51,429.30 656.93,429.30 657.35,429.30 657.77,429.30 658.19,429.30 658.61,429.30 659.03,429.30 659.45,429.30 659.87,429.30 660.29,429.30 660.71,429.30 661.12,429.30 661.54,429.30 661.96,429.30 662.38,429.30 662.80,429.30 663.22,429.30 663.64,429.30 664.06,429.30 664.48,429.30 664.90,429.30 665.31,429.30 665.73,429.30 666.15,429.30 666.57,429.30 666.99,429.30 667.41,429.30 667.83,429.30 668.25,429.30 668.67,429.30 669.09,429.30 669.50,429.30 669.92,429.30 670.34,429.30 670.76,429.30 671.18,429.30 671.60,429.30" fill="none" stroke="#e8252a" stroke-width="1.45" stroke-linejoin="round" stroke-linecap="round"/>
<polyline points="440.00,429.30 440.32,429.30 440.64,429.30 440.96,429.30 441.28,429.30 441.61,429.30 441.93,429.30 442.25,429.30 442.57,429.30 442.89,429.30 443.21,429.30 443.53,429.30 443.85,429.30 444.17,429.30 444.49,429.30 444.82,429.30 445.14,429.30 445.46,429.30 445.78,429.29 446.10,429.28 446.42,429.27 446.74,429.25 447.06,429.23 447.38,429.21 447.71,429.19 448.03,429.17 448.35,429.15 448.67,429.13 448.99,429.11 449.31,429.08 449.63,429.04 449.95,429.01 450.27,428.97 450.60,428.92 450.92,428.87 451.24,428.82 451.56,428.76 451.88,428.69 452.20,428.62 452.52,428.52 452.84,428.37 453.16,428.18 453.48,427.95 453.81,427.69 454.13,427.40 454.45,427.09 454.77,426.76 455.09,426.42 455.41,426.07 455.73,425.72 456.05,425.37 456.37,425.02 456.70,424.66 457.02,424.29 457.34,423.90 457.66,423.49 457.98,423.06 458.30,422.61 458.62,422.14 458.94,421.64 459.26,421.12 459.59,420.56 459.91,419.98 460.23,419.36 460.55,418.70 460.87,418.00 461.19,417.23 461.51,416.40 461.83,415.50 462.15,414.51 462.47,413.44 462.80,412.27 463.12,410.99 463.44,409.58 463.76,407.83 464.08,405.75 464.40,403.40 464.72,400.82 465.04,398.00 465.36,394.55 465.69,390.63 466.01,386.53 466.33,382.52 466.65,378.90 466.97,375.63 467.29,372.56 467.61,369.56 467.93,366.55 468.25,363.42 468.58,360.06 468.90,356.27 469.22,352.14 469.54,348.06 469.86,344.45 470.18,341.48 470.50,338.61 470.82,335.20 471.14,330.97 471.46,326.57 471.79,322.71 472.11,319.30 472.43,316.12 472.75,313.11 473.07,310.23 473.39,307.24 473.71,304.27 474.03,301.54 474.35,299.29 474.68,297.74 475.00,296.46 475.32,295.31 475.64,294.40 475.96,293.82 476.28,293.69 476.60,293.94 476.92,294.48 477.24,295.25 477.57,296.20 477.89,297.28 478.21,298.49 478.53,300.39 478.85,302.96 479.17,305.90 479.49,308.95 479.81,311.87 480.13,314.94 480.45,318.15 480.78,321.42 481.10,324.63 481.42,327.90 481.74,331.18 482.06,334.36 482.38,337.33 482.70,339.89 483.02,342.43 483.34,345.57 483.67,350.32 483.99,355.71 484.31,359.86 484.63,362.50 484.95,364.64 485.27,366.50 485.59,368.29 485.91,370.23 486.23,372.29 486.56,374.33 486.88,376.37 487.20,378.41 487.52,380.47 487.84,382.56 488.16,384.73 488.48,387.03 488.80,389.36 489.12,391.63 489.44,393.74 489.77,395.59 490.09,397.22 490.41,398.78 490.73,400.26 491.05,401.68 491.37,403.02 491.69,404.29 492.01,405.47 492.33,406.57 492.66,407.59 492.98,408.52 493.30,409.39 493.62,410.23 493.94,411.04 494.26,411.83 494.58,412.58 494.90,413.31 495.22,414.01 495.55,414.68 495.87,415.32 496.19,415.93 496.51,416.50 496.83,417.04 497.15,417.54 497.47,418.01 497.79,418.44 498.11,418.84 498.43,419.21 498.76,419.56 499.08,419.90 499.40,420.22 499.72,420.53 500.04,420.83 500.36,421.12 500.68,421.40 501.00,421.66 501.32,421.92 501.65,422.16 501.97,422.39 502.29,422.62 502.61,422.83 502.93,423.04 503.25,423.24 503.57,423.43 503.89,423.61 504.21,423.78 504.54,423.95 504.86,424.11 505.18,424.27 505.50,424.42 505.82,424.57 506.14,424.71 506.46,424.85 506.78,424.99 507.10,425.12 507.42,425.24 507.75,425.37 508.07,425.49 508.39,425.61 508.71,425.72 509.03,425.83 509.35,425.94 509.67,426.05 509.99,426.16 510.31,426.26 510.64,426.36 510.96,426.46 511.28,426.56 511.60,426.66 511.92,426.76 512.24,426.85 512.56,426.95 512.88,427.04 513.20,427.14 513.53,427.23 513.85,427.33 514.17,427.43 514.49,427.53 514.81,427.63 515.13,427.73 515.45,427.84 515.77,427.94 516.09,428.04 516.41,428.14 516.74,428.23 517.06,428.32 517.38,428.41 517.70,428.50 518.02,428.57 518.34,428.65 518.66,428.71 518.98,428.77 519.30,428.82 519.63,428.86 519.95,428.89 520.27,428.91 520.59,428.93 520.91,428.96 521.23,428.98 521.55,429.00 521.87,429.02 522.19,429.04 522.52,429.06 522.84,429.08 523.16,429.10 523.48,429.12 523.80,429.13 524.12,429.15 524.44,429.16 524.76,429.18 525.08,429.19 525.40,429.21 525.73,429.22 526.05,429.23 526.37,429.24 526.69,429.25 527.01,429.26 527.33,429.27 527.65,429.27 527.97,429.28 528.29,429.29 528.62,429.29 528.94,429.29 529.26,429.30 529.58,429.30 529.90,429.30 530.22,429.30 530.54,429.30 530.86,429.30 531.18,429.30 531.51,429.30 531.83,429.30 532.15,429.30 532.47,429.30 532.79,429.30 533.11,429.30 533.43,429.30 533.75,429.30 534.07,429.30 534.39,429.30 534.72,429.30 535.04,429.30 535.36,429.30 535.68,429.30 536.00,429.30" fill="none" stroke="#2b2bd6" stroke-width="1.45" stroke-linejoin="round" stroke-linecap="round"/>
<line x1="545.00" y1="429.30" x2="671.60" y2="429.30" stroke="#3a1414" stroke-width="1.25"/>
<line x1="483.26" y1="429.30" x2="483.26" y2="425.90" stroke="#231f20" stroke-width="1.1"/>
<line x1="546.13" y1="429.30" x2="546.13" y2="425.90" stroke="#231f20" stroke-width="1.1"/>
<line x1="609.00" y1="429.30" x2="609.00" y2="425.90" stroke="#231f20" stroke-width="1.1"/>
<line x1="451.83" y1="429.30" x2="451.83" y2="427.20" stroke="#231f20" stroke-width="1.1"/>
<line x1="514.70" y1="429.30" x2="514.70" y2="427.20" stroke="#231f20" stroke-width="1.1"/>
<line x1="577.56" y1="429.30" x2="577.56" y2="427.20" stroke="#231f20" stroke-width="1.1"/>
<line x1="640.43" y1="429.30" x2="640.43" y2="427.20" stroke="#231f20" stroke-width="1.1"/>
<line x1="420.40" y1="402.04" x2="423.80" y2="402.04" stroke="#231f20" stroke-width="1.1"/>
<line x1="420.40" y1="374.78" x2="423.80" y2="374.78" stroke="#231f20" stroke-width="1.1"/>
<line x1="420.40" y1="347.52" x2="423.80" y2="347.52" stroke="#231f20" stroke-width="1.1"/>
<line x1="420.40" y1="320.26" x2="423.80" y2="320.26" stroke="#231f20" stroke-width="1.1"/>
<line x1="420.40" y1="293.00" x2="423.80" y2="293.00" stroke="#231f20" stroke-width="1.1"/>
<line x1="420.40" y1="415.67" x2="422.50" y2="415.67" stroke="#231f20" stroke-width="1.1"/>
<line x1="420.40" y1="388.41" x2="422.50" y2="388.41" stroke="#231f20" stroke-width="1.1"/>
<line x1="420.40" y1="361.15" x2="422.50" y2="361.15" stroke="#231f20" stroke-width="1.1"/>
<line x1="420.40" y1="333.89" x2="422.50" y2="333.89" stroke="#231f20" stroke-width="1.1"/>
<line x1="420.40" y1="306.63" x2="422.50" y2="306.63" stroke="#231f20" stroke-width="1.1"/>
<text transform="translate(398.38,433.30) scale(0.9615,1)" font-size="13.73" stroke="#231f20" stroke-width="0.22" fill="#231f20">0.0</text>
<text transform="translate(398.51,406.04) scale(0.9615,1)" font-size="13.73" stroke="#231f20" stroke-width="0.22" fill="#231f20">0.2</text>
<text transform="translate(398.25,378.78) scale(0.9615,1)" font-size="13.73" stroke="#231f20" stroke-width="0.22" fill="#231f20">0.4</text>
<text transform="translate(398.45,351.52) scale(0.9615,1)" font-size="13.73" stroke="#231f20" stroke-width="0.22" fill="#231f20">0.6</text>
<text transform="translate(398.38,324.26) scale(0.9615,1)" font-size="13.73" stroke="#231f20" stroke-width="0.22" fill="#231f20">0.8</text>
<text transform="translate(398.38,297.00) scale(0.9615,1)" font-size="13.73" stroke="#231f20" stroke-width="0.22" fill="#231f20">1.0</text>
<text transform="translate(409.01,445.00) scale(0.9615,1)" font-size="13.73" stroke="#231f20" stroke-width="0.22" fill="#231f20">500</text>
<text transform="translate(470.78,445.00) scale(0.9615,1)" font-size="13.73" stroke="#231f20" stroke-width="0.22" fill="#231f20">550</text>
<text transform="translate(533.58,445.00) scale(0.9615,1)" font-size="13.73" stroke="#231f20" stroke-width="0.22" fill="#231f20">600</text>
<text transform="translate(596.44,445.00) scale(0.9615,1)" font-size="13.73" stroke="#231f20" stroke-width="0.22" fill="#231f20">650</text>
<text transform="translate(659.31,445.00) scale(0.9615,1)" font-size="13.73" stroke="#231f20" stroke-width="0.22" fill="#231f20">700</text>
<text transform="translate(386.00,440.06) rotate(-90) scale(0.9613,1)" font-size="13.73" stroke="#231f20" stroke-width="0.22" fill="#231f20">Normalized PL intensity (a.u.)</text>
<text transform="translate(496.03,463.60) scale(0.9651,1)" font-size="13.73" stroke="#231f20" stroke-width="0.22" fill="#231f20">Wavelength (nm)</text>
<line x1="525.40" y1="296.80" x2="542.50" y2="296.80" stroke="#1a1a1a" stroke-width="1.3"/>
<text transform="translate(546.74,300.80) scale(1.0309,1)" font-size="10.91" stroke="#231f20" stroke-width="0.22" fill="#231f20">As-grown SC</text>
<line x1="525.40" y1="311.40" x2="542.50" y2="311.40" stroke="#e8252a" stroke-width="1.3"/>
<text transform="translate(546.74,314.80) scale(1.0309,1)" font-size="10.91" stroke="#231f20" stroke-width="0.22" fill="#231f20">With PCBM 300K</text>
<line x1="525.40" y1="325.70" x2="542.50" y2="325.70" stroke="#2b2bd6" stroke-width="1.3"/>
<text transform="translate(546.74,328.60) scale(1.0309,1)" font-size="10.91" stroke="#231f20" stroke-width="0.22" fill="#231f20">With PCBM 77K</text>
<rect x="585.5" y="377.6" width="48.1" height="21.2" fill="url(#cg)"/>
<rect x="585.90" y="378.00" width="47.30" height="20.40" fill="none" stroke="#eaaa14" stroke-width="0.8"/>
<rect x="630.60" y="377.6" width="3.0" height="21.2" fill="url(#ce)"/>
<rect x="585.50" y="398.80" width="48.30" height="4.00" fill="#000"/>
<text transform="translate(586.39,345.90) scale(1.0426,1)" font-size="10.86" stroke="#231f20" stroke-width="0.22" fill="#231f20">PL peak 1</text>
<text transform="translate(511.00,360.90) scale(1.0391,1)" font-size="10.86" stroke="#231f20" stroke-width="0.22" fill="#231f20">Excitation light</text>
<text transform="translate(511.09,384.00) scale(1.0522,1)" font-size="10.86" stroke="#231f20" stroke-width="0.22" fill="#231f20">Single crystal</text>
<text transform="translate(591.86,415.80) scale(1.0775,1)" font-size="10.86" stroke="#231f20" stroke-width="0.22" fill="#231f20">PCBM</text>
<line x1="592.20" y1="359.20" x2="607.10" y2="375.28" stroke="#7b3bb5" stroke-width="1.4" stroke-linecap="butt"/>
<polyline points="601.99,373.60 607.30,375.50 605.81,370.07" fill="none" stroke="#7b3bb5" stroke-width="1.4" stroke-linejoin="miter" stroke-linecap="butt"/>
<line x1="608.60" y1="377.80" x2="608.60" y2="351.40" stroke="#16874a" stroke-width="1.5" stroke-linecap="butt"/>
<polyline points="611.60,356.50 608.60,351.10 605.60,356.50" fill="none" stroke="#16874a" stroke-width="1.5" stroke-linejoin="miter" stroke-linecap="butt"/>
<line x1="608.60" y1="379.00" x2="615.38" y2="394.72" stroke="#8fd46a" stroke-width="1.5" stroke-linecap="butt"/>
<polyline points="611.21,391.62 615.50,395.00 615.99,389.56" fill="none" stroke="#8fd46a" stroke-width="1.5" stroke-linejoin="miter" stroke-linecap="butt"/>
<line x1="615.50" y1="395.00" x2="622.49" y2="402.09" stroke="#8fd46a" stroke-width="1.5" stroke-linecap="butt"/>
<polyline points="617.48,400.71 622.70,402.30 621.18,397.06" fill="none" stroke="#8fd46a" stroke-width="1.5" stroke-linejoin="miter" stroke-linecap="butt"/>
<circle cx="608.6" cy="379" r="1.5" fill="#0c6b2c"/>
</svg>
</body></html>
